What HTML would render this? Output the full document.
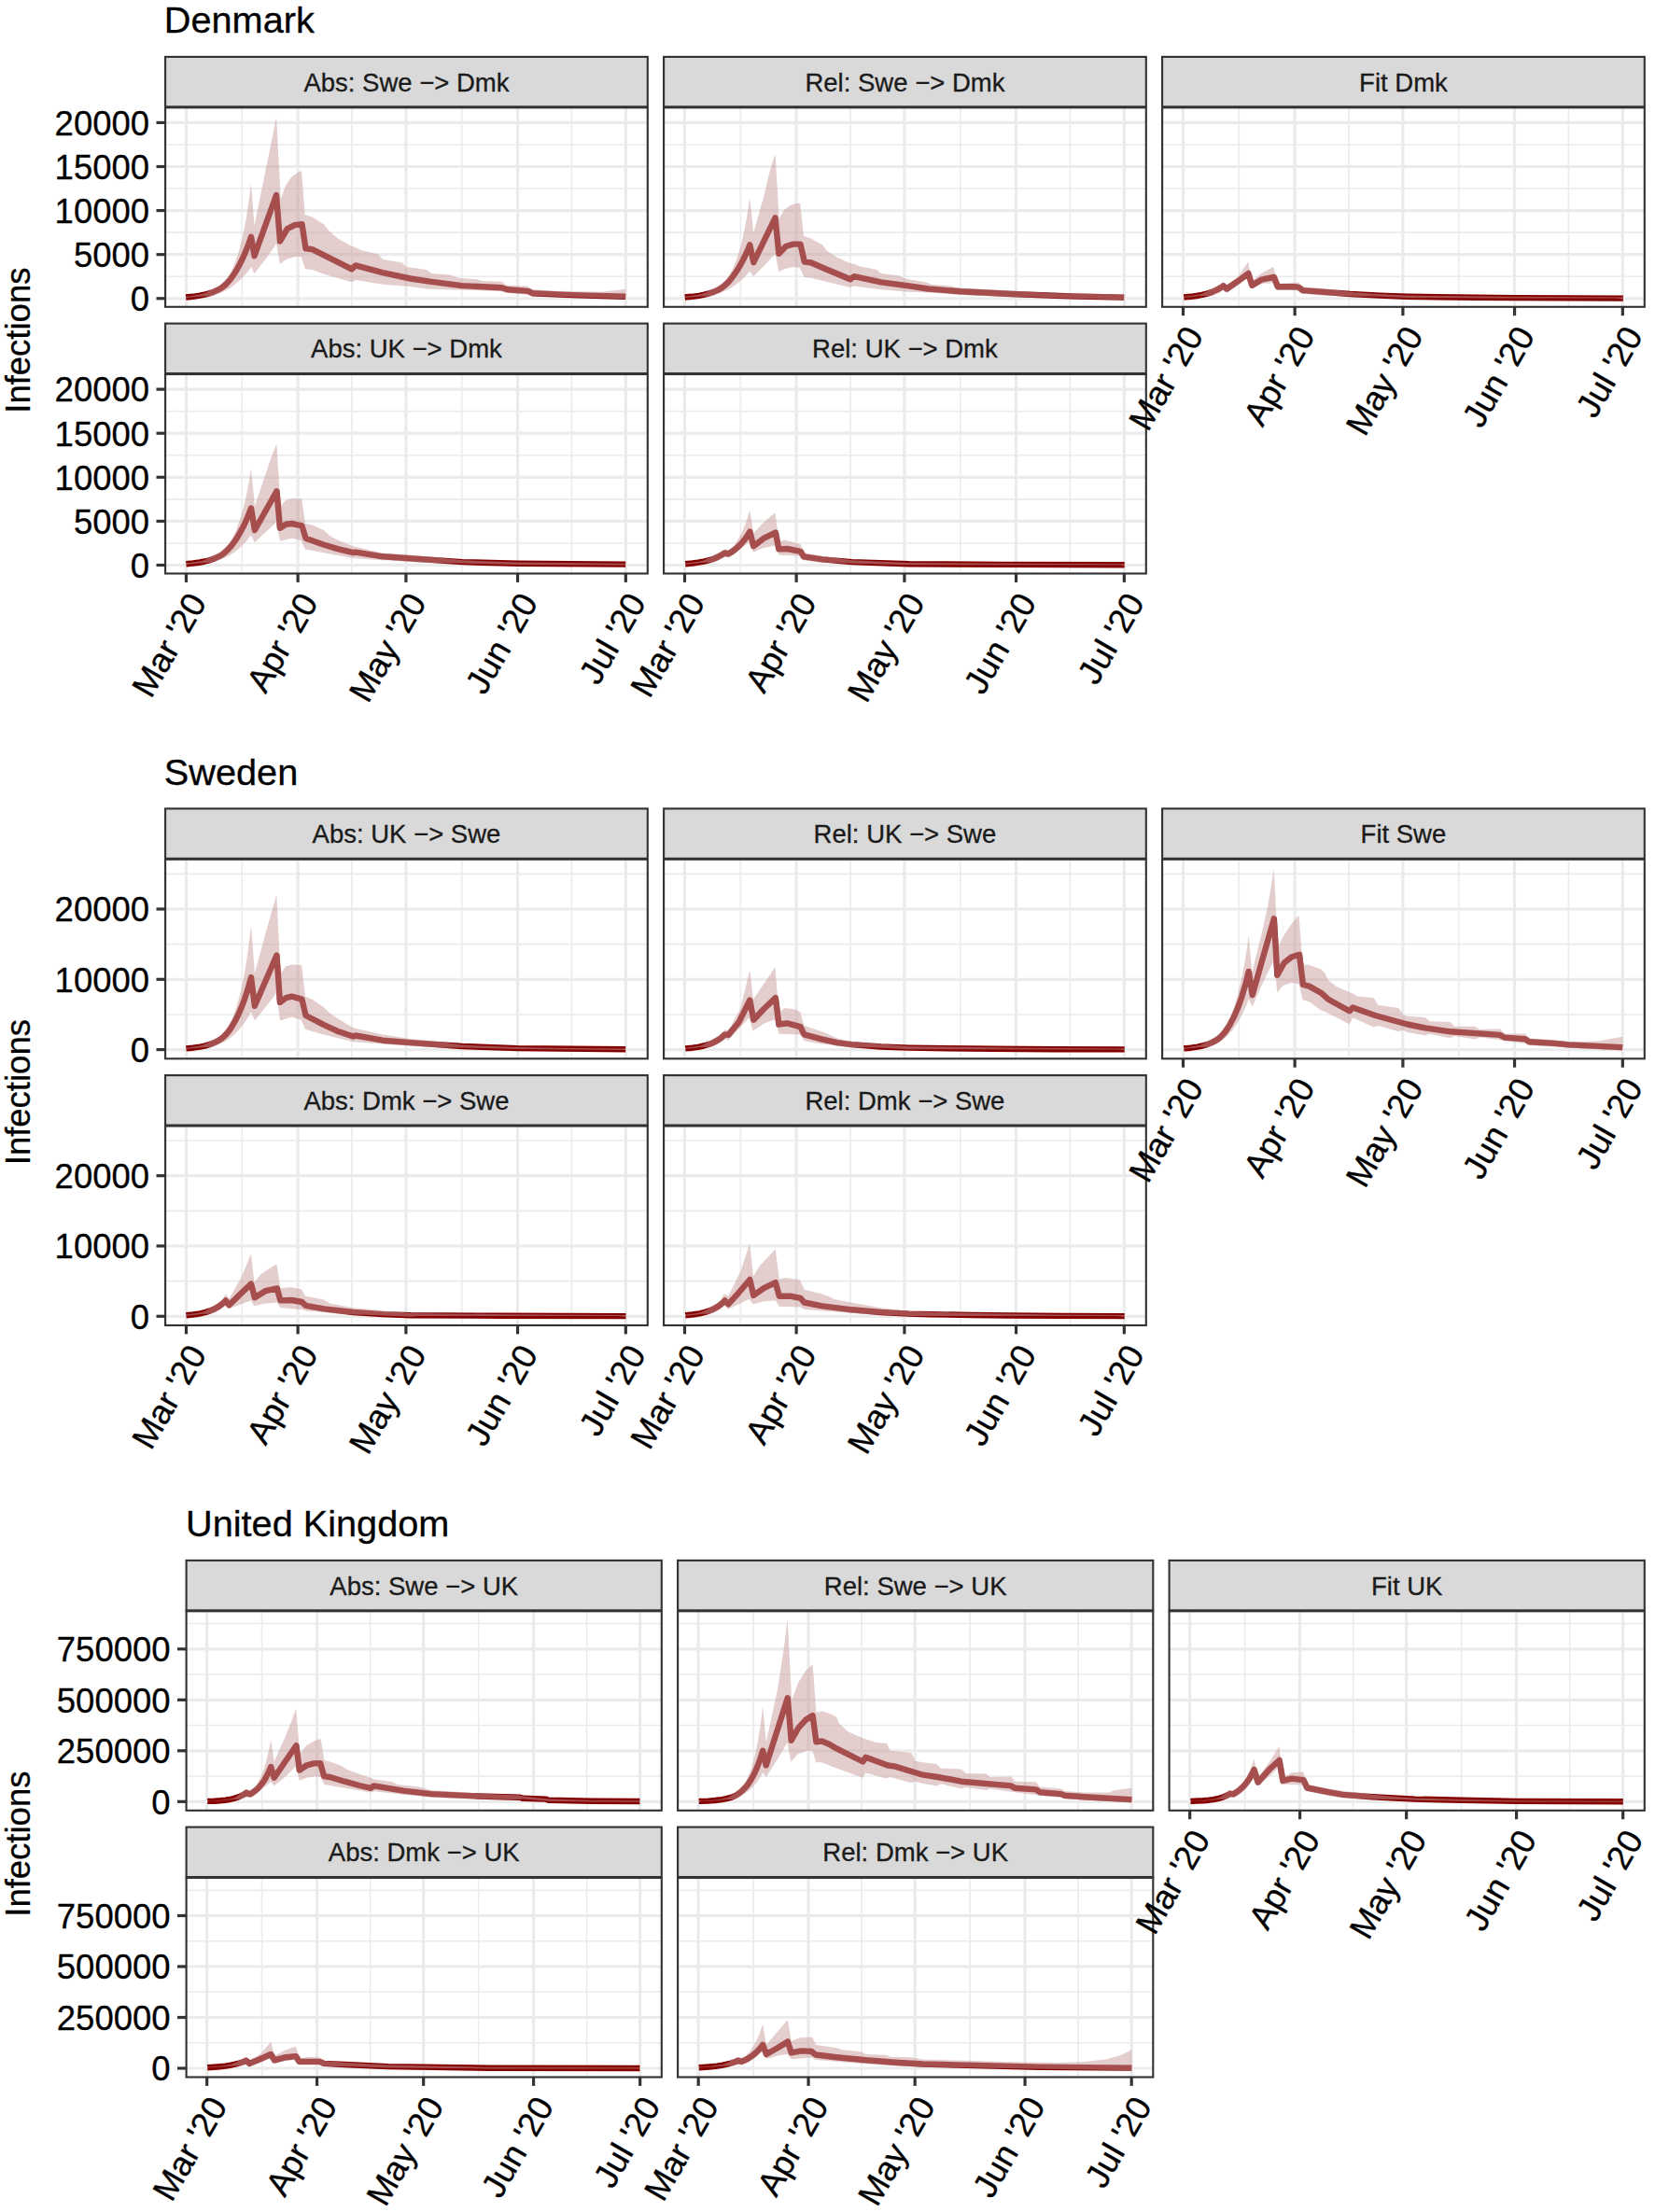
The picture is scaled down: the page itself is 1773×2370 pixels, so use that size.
<!DOCTYPE html>
<html lang="en"><head><meta charset="utf-8"><title>Infections: Denmark, Sweden, United Kingdom</title>
<style>html,body{margin:0;padding:0;background:#fff}svg{display:block}text{stroke:currentColor;stroke-width:.3px;paint-order:stroke}</style></head>
<body>
<svg width="1773" height="2370" viewBox="0 0 1773 2370" font-family='"Liberation Sans", Arial, Helvetica, sans-serif'>
<rect width="1773" height="2370" fill="#fff"/>
<g>
<text x="175.8" y="35" font-size="39.7" fill="#000" color="#000">Denmark</text>
<text transform="translate(31.6 364.65) rotate(-90)" text-anchor="middle" font-size="36.5" fill="#000" color="#000">Infections</text>
<line x1="167.5" x2="177.1" y1="319.8" y2="319.8" stroke="#333" stroke-width="3.2"/>
<text x="160.1" y="333.1" text-anchor="end" font-size="36.5" fill="#000" color="#000">0</text>
<line x1="167.5" x2="177.1" y1="272.7" y2="272.7" stroke="#333" stroke-width="3.2"/>
<text x="160.1" y="286" text-anchor="end" font-size="36.5" fill="#000" color="#000">5000</text>
<line x1="167.5" x2="177.1" y1="225.6" y2="225.6" stroke="#333" stroke-width="3.2"/>
<text x="160.1" y="238.9" text-anchor="end" font-size="36.5" fill="#000" color="#000">10000</text>
<line x1="167.5" x2="177.1" y1="178.5" y2="178.5" stroke="#333" stroke-width="3.2"/>
<text x="160.1" y="191.8" text-anchor="end" font-size="36.5" fill="#000" color="#000">15000</text>
<line x1="167.5" x2="177.1" y1="131.4" y2="131.4" stroke="#333" stroke-width="3.2"/>
<text x="160.1" y="144.7" text-anchor="end" font-size="36.5" fill="#000" color="#000">20000</text>
<clipPath id="c1"><rect x="177.1" y="115.3" width="516.7" height="213.5"/></clipPath>
<g clip-path="url(#c1)">
<line x1="259.31" x2="259.31" y1="115.3" y2="328.8" stroke="#ebebeb" stroke-width="1.6"/>
<line x1="377.02" x2="377.02" y1="115.3" y2="328.8" stroke="#ebebeb" stroke-width="1.6"/>
<line x1="494.73" x2="494.73" y1="115.3" y2="328.8" stroke="#ebebeb" stroke-width="1.6"/>
<line x1="612.44" x2="612.44" y1="115.3" y2="328.8" stroke="#ebebeb" stroke-width="1.6"/>
<line x1="177.1" x2="693.8" y1="296.25" y2="296.25" stroke="#ebebeb" stroke-width="1.6"/>
<line x1="177.1" x2="693.8" y1="249.15" y2="249.15" stroke="#ebebeb" stroke-width="1.6"/>
<line x1="177.1" x2="693.8" y1="202.05" y2="202.05" stroke="#ebebeb" stroke-width="1.6"/>
<line x1="177.1" x2="693.8" y1="154.95" y2="154.95" stroke="#ebebeb" stroke-width="1.6"/>
<line x1="199.48" x2="199.48" y1="115.3" y2="328.8" stroke="#ebebeb" stroke-width="3.2"/>
<line x1="319.13" x2="319.13" y1="115.3" y2="328.8" stroke="#ebebeb" stroke-width="3.2"/>
<line x1="434.91" x2="434.91" y1="115.3" y2="328.8" stroke="#ebebeb" stroke-width="3.2"/>
<line x1="554.55" x2="554.55" y1="115.3" y2="328.8" stroke="#ebebeb" stroke-width="3.2"/>
<line x1="670.33" x2="670.33" y1="115.3" y2="328.8" stroke="#ebebeb" stroke-width="3.2"/>
<line x1="177.1" x2="693.8" y1="319.8" y2="319.8" stroke="#ebebeb" stroke-width="3.2"/>
<line x1="177.1" x2="693.8" y1="272.7" y2="272.7" stroke="#ebebeb" stroke-width="3.2"/>
<line x1="177.1" x2="693.8" y1="225.6" y2="225.6" stroke="#ebebeb" stroke-width="3.2"/>
<line x1="177.1" x2="693.8" y1="178.5" y2="178.5" stroke="#ebebeb" stroke-width="3.2"/>
<line x1="177.1" x2="693.8" y1="131.4" y2="131.4" stroke="#ebebeb" stroke-width="3.2"/>
<polyline points="199.1,318.5 206.6,317.8 214.1,316.7 219.1,315.7 224.1,314.4 229.1,312.7 234.1,310.4 236.6,309 239.1,307.2 241.6,305 244.1,302.4 246.6,299.5 249,296.2 251.5,292.5 254,288.3 256.5,283.8 259,278.8 261.5,273.4 264,267.4 266.5,260.9 269,253.7 272.5,274.2 296,209 300,258.5 307.8,245.1 315.7,241.2 323.5,240.1 327.5,266.3 334.5,267.1 376.9,288.3 380.9,284.4 409.9,292.2 439.8,298.5 460.4,301.7 495,306.1 537.4,308.3 543.7,310.3 565.7,311.9 570.4,314.2 612.8,316.1 670.2,317.8" fill="none" stroke="#840000" stroke-width="6.4" stroke-linejoin="round"/>
<polygon points="199.1,317.5 201.6,317.4 206.6,316.8 216.1,315 219.1,313.9 224.1,311.5 228.6,309 234.6,305.9 237.1,304.2 241.1,300.3 244.1,296.9 246.6,292.8 249.1,287.8 251.1,283.1 254.1,275 256.6,266.8 259.1,257.1 261.6,245.6 264.1,231.9 266.6,215.5 268.6,199.6 269.1,197.6 272.1,237.1 272.6,241.3 284.1,184.6 290.6,153.6 295.6,127.2 296.1,126.2 300.6,211 301.1,212.7 306.1,198.4 312.1,189.9 312.6,189.3 319.1,185.1 323.1,183.1 326.6,229.3 327.1,230.3 334.6,232.6 347.1,240.4 352.1,246.9 362.6,255.9 376.6,263.8 381.1,264.9 386.6,267.9 405.1,272.6 410.1,278.1 430.1,281.2 430.6,281.5 435.1,286 457.1,289.1 462.1,293 482.1,294.6 490.6,297.8 510.6,299.3 517.1,300.9 537.1,301.7 537.6,301.8 542.1,305.6 564.1,306.4 569.1,309.5 570.6,310.3 571.1,310.3 597.1,311.8 644.1,312.7 670.2,309.8 670.2,320.2 619.1,318.4 577.1,317.2 570.6,317.1 569.1,317.2 567.6,316.9 564.6,315.5 543.1,313.9 537.6,312.2 534.1,311.9 457.1,309.5 439.6,307.1 410.1,304.8 381.1,300.1 380.6,300.2 377.1,302.3 376.6,302.3 347.1,293.8 334.6,289.1 327.1,288.3 322.6,275 315.6,275 306.6,278 300.1,282.7 299.6,280.8 296.1,261.2 295.6,261.5 293.6,264.8 284.1,278.3 272.6,292.9 272.1,292.3 269.1,286.1 268.6,286.5 266.6,289.4 263.6,293.2 259.1,298.2 256.6,300.6 251.1,305.3 246.6,308.5 244.1,310 239.1,312.5 235.6,313.8 230.1,316.2 227.6,317 222.6,317.5 216.1,317.5 201.6,318.7 199.1,319.3" fill="#c89b9b" fill-opacity="0.5"/>
</g>
<rect x="177.1" y="115.3" width="516.7" height="213.5" fill="none" stroke="#333" stroke-width="2.13"/>
<rect x="177.1" y="60.9" width="516.7" height="53.45" fill="#d9d9d9" stroke="#333" stroke-width="2.13"/>
<text x="435.45" y="97.62" text-anchor="middle" font-size="27.5" fill="#1a1a1a" color="#1a1a1a">Abs: Swe −> Dmk</text>
<clipPath id="c2"><rect x="711.1" y="115.3" width="516.7" height="213.5"/></clipPath>
<g clip-path="url(#c2)">
<line x1="793.31" x2="793.31" y1="115.3" y2="328.8" stroke="#ebebeb" stroke-width="1.6"/>
<line x1="911.02" x2="911.02" y1="115.3" y2="328.8" stroke="#ebebeb" stroke-width="1.6"/>
<line x1="1028.73" x2="1028.73" y1="115.3" y2="328.8" stroke="#ebebeb" stroke-width="1.6"/>
<line x1="1146.44" x2="1146.44" y1="115.3" y2="328.8" stroke="#ebebeb" stroke-width="1.6"/>
<line x1="711.1" x2="1227.8" y1="296.25" y2="296.25" stroke="#ebebeb" stroke-width="1.6"/>
<line x1="711.1" x2="1227.8" y1="249.15" y2="249.15" stroke="#ebebeb" stroke-width="1.6"/>
<line x1="711.1" x2="1227.8" y1="202.05" y2="202.05" stroke="#ebebeb" stroke-width="1.6"/>
<line x1="711.1" x2="1227.8" y1="154.95" y2="154.95" stroke="#ebebeb" stroke-width="1.6"/>
<line x1="733.48" x2="733.48" y1="115.3" y2="328.8" stroke="#ebebeb" stroke-width="3.2"/>
<line x1="853.13" x2="853.13" y1="115.3" y2="328.8" stroke="#ebebeb" stroke-width="3.2"/>
<line x1="968.91" x2="968.91" y1="115.3" y2="328.8" stroke="#ebebeb" stroke-width="3.2"/>
<line x1="1088.55" x2="1088.55" y1="115.3" y2="328.8" stroke="#ebebeb" stroke-width="3.2"/>
<line x1="1204.33" x2="1204.33" y1="115.3" y2="328.8" stroke="#ebebeb" stroke-width="3.2"/>
<line x1="711.1" x2="1227.8" y1="319.8" y2="319.8" stroke="#ebebeb" stroke-width="3.2"/>
<line x1="711.1" x2="1227.8" y1="272.7" y2="272.7" stroke="#ebebeb" stroke-width="3.2"/>
<line x1="711.1" x2="1227.8" y1="225.6" y2="225.6" stroke="#ebebeb" stroke-width="3.2"/>
<line x1="711.1" x2="1227.8" y1="178.5" y2="178.5" stroke="#ebebeb" stroke-width="3.2"/>
<line x1="711.1" x2="1227.8" y1="131.4" y2="131.4" stroke="#ebebeb" stroke-width="3.2"/>
<polyline points="733.7,318.5 741.2,317.8 748.7,316.8 753.6,315.9 758.6,314.7 763.6,313.1 768.5,311.1 771,309.8 773.5,308.2 776,306.2 778.5,303.9 781,301.4 783.5,298.4 785.9,295.2 788.4,291.6 790.9,287.7 793.4,283.5 795.9,278.8 798.4,273.8 800.8,268.4 803.3,262.4 807.3,281.2 830.5,233.3 834.4,271.8 841.8,264 849.7,261.6 857.5,261.6 861.8,280.5 868.5,281.2 881.1,286.7 910.9,299.3 914.9,296.2 943.9,302.4 973.8,306.4 994.4,309.5 1029,312.3 1084,315 1146.8,317.4 1204.2,318.6" fill="none" stroke="#840000" stroke-width="6.4" stroke-linejoin="round"/>
<polygon points="733.7,317.5 736.2,317.4 741.2,316.8 750.7,315.2 753.7,314.2 757.7,312.4 764.2,309 769.2,306.6 771.7,305 776.2,301.1 779.2,297.9 780.7,295.6 783.7,290.3 785.7,286.1 788.2,280.1 790.7,273 793.2,264.7 795.7,254.8 798.2,243.1 800.7,229 803.2,212 803.7,215.3 807.2,249.6 818.2,210.6 824.7,183.2 830.2,165.8 830.7,168.7 834.7,233.9 835.2,233.3 840.2,224.7 846.2,220.2 846.7,219.9 853.2,218.1 856.7,217.7 857.2,217.8 860.7,250.6 861.2,253 868.7,255.4 880.7,262.2 881.2,262.6 885.7,268.6 886.2,268.9 896.7,275.7 910.7,281.9 914.7,282.8 920.7,285.2 939.2,289.1 943.7,292.9 944.2,293.1 964.2,295.4 969.2,298.5 992.7,302.4 997.7,304.8 1019.2,306.4 1024.7,308.3 1131.2,314.2 1204.2,315.5 1204.2,321.3 1146.7,319.7 1118.2,318.7 1083.7,317.9 1038.2,316.5 1028.7,316 997.2,313.4 973.7,312.7 944.2,310.3 915.2,306.4 914.7,306.4 910.7,307.9 868.7,297.8 861.7,297 861.2,296.5 856.7,286.7 849.7,286 849.2,286.1 840.2,288.3 834.7,291.3 834.2,290.4 830.7,272.9 830.2,272.1 818.2,285.2 807.2,296.1 803.7,291.2 803.2,290.8 798.2,296.4 795.7,298.8 791.2,302.7 785.7,306.7 781.2,309.5 778.2,311 766.7,315.8 764.7,316.6 763.2,317 759.7,317.4 751.7,317.5 736.2,318.7 733.7,319.3" fill="#c89b9b" fill-opacity="0.5"/>
</g>
<rect x="711.1" y="115.3" width="516.7" height="213.5" fill="none" stroke="#333" stroke-width="2.13"/>
<rect x="711.1" y="60.9" width="516.7" height="53.45" fill="#d9d9d9" stroke="#333" stroke-width="2.13"/>
<text x="969.45" y="97.62" text-anchor="middle" font-size="27.5" fill="#1a1a1a" color="#1a1a1a">Rel: Swe −> Dmk</text>
<clipPath id="c3"><rect x="1245.1" y="115.3" width="516.7" height="213.5"/></clipPath>
<g clip-path="url(#c3)">
<line x1="1327.31" x2="1327.31" y1="115.3" y2="328.8" stroke="#ebebeb" stroke-width="1.6"/>
<line x1="1445.02" x2="1445.02" y1="115.3" y2="328.8" stroke="#ebebeb" stroke-width="1.6"/>
<line x1="1562.73" x2="1562.73" y1="115.3" y2="328.8" stroke="#ebebeb" stroke-width="1.6"/>
<line x1="1680.44" x2="1680.44" y1="115.3" y2="328.8" stroke="#ebebeb" stroke-width="1.6"/>
<line x1="1245.1" x2="1761.8" y1="296.25" y2="296.25" stroke="#ebebeb" stroke-width="1.6"/>
<line x1="1245.1" x2="1761.8" y1="249.15" y2="249.15" stroke="#ebebeb" stroke-width="1.6"/>
<line x1="1245.1" x2="1761.8" y1="202.05" y2="202.05" stroke="#ebebeb" stroke-width="1.6"/>
<line x1="1245.1" x2="1761.8" y1="154.95" y2="154.95" stroke="#ebebeb" stroke-width="1.6"/>
<line x1="1267.48" x2="1267.48" y1="115.3" y2="328.8" stroke="#ebebeb" stroke-width="3.2"/>
<line x1="1387.13" x2="1387.13" y1="115.3" y2="328.8" stroke="#ebebeb" stroke-width="3.2"/>
<line x1="1502.91" x2="1502.91" y1="115.3" y2="328.8" stroke="#ebebeb" stroke-width="3.2"/>
<line x1="1622.55" x2="1622.55" y1="115.3" y2="328.8" stroke="#ebebeb" stroke-width="3.2"/>
<line x1="1738.33" x2="1738.33" y1="115.3" y2="328.8" stroke="#ebebeb" stroke-width="3.2"/>
<line x1="1245.1" x2="1761.8" y1="319.8" y2="319.8" stroke="#ebebeb" stroke-width="3.2"/>
<line x1="1245.1" x2="1761.8" y1="272.7" y2="272.7" stroke="#ebebeb" stroke-width="3.2"/>
<line x1="1245.1" x2="1761.8" y1="225.6" y2="225.6" stroke="#ebebeb" stroke-width="3.2"/>
<line x1="1245.1" x2="1761.8" y1="178.5" y2="178.5" stroke="#ebebeb" stroke-width="3.2"/>
<line x1="1245.1" x2="1761.8" y1="131.4" y2="131.4" stroke="#ebebeb" stroke-width="3.2"/>
<polyline points="1268.2,318.5 1275.8,317.8 1281.8,317 1287.9,315.9 1294,314.4 1298.5,312.9 1303.1,310.9 1307.6,308.4 1310.6,306.4 1314.2,309.5 1325.6,301.7 1337.3,293 1341.3,305.6 1352.3,299.3 1364.8,296.9 1368.8,307.2 1386.8,307.2 1391.5,307.9 1395.5,311.1 1446.5,315 1477.9,316.6 1507.8,317.7 1540.8,318.3 1582.1,318.8 1623.4,319.1 1738.9,319.6" fill="none" stroke="#840000" stroke-width="6.4" stroke-linejoin="round"/>
<polygon points="1268.2,317.7 1278.7,316.6 1286.2,315.2 1292.2,312.6 1298.7,308.8 1303.2,306.7 1309.2,303.1 1310.7,301.8 1311.2,302.7 1312.7,303.4 1314.2,304.7 1314.7,304.8 1324.2,298.2 1327.2,295.2 1337.2,280.6 1338.7,289.7 1339.7,290.6 1340.2,291.3 1340.7,292.5 1342.7,298.9 1343.2,299.5 1352.2,292.3 1364.2,286.1 1364.7,287 1365.7,292.2 1366.2,293.6 1367.2,294.4 1368.2,296.2 1370.7,302.7 1371.2,303.5 1376.7,303.4 1391.2,302.5 1391.7,302.7 1393.2,304.7 1396.7,307.5 1417.2,309.1 1446.7,312.7 1472.2,314.8 1507.7,316.6 1615.2,317.8 1738.9,318.6 1738.9,320.4 1730.2,319.6 1606.7,319.4 1507.7,318.9 1472.2,317.6 1446.2,317.4 1417.2,316.5 1395.2,314.8 1393.2,313.9 1390.2,311.5 1386.7,310.9 1369.2,310.9 1367.7,310.6 1366.7,310.1 1365.7,308.8 1363.7,303.6 1363.2,303.3 1352.2,304 1350.2,304.7 1343.2,308.7 1341.7,309.1 1340.7,309.1 1339.2,308.4 1338.2,307.2 1335.7,299.2 1335.2,299.1 1327.2,304.9 1316.7,312.2 1315.2,313 1314.2,313.2 1313.2,313 1312.2,312.5 1310.7,311.2 1310.2,311 1304.7,314.2 1298.7,316.7 1293.2,317 1285.7,317.1 1278.7,318 1269.7,318.7 1268.2,319.3" fill="#c89b9b" fill-opacity="0.5"/>
</g>
<rect x="1245.1" y="115.3" width="516.7" height="213.5" fill="none" stroke="#333" stroke-width="2.13"/>
<rect x="1245.1" y="60.9" width="516.7" height="53.45" fill="#d9d9d9" stroke="#333" stroke-width="2.13"/>
<text x="1503.45" y="97.62" text-anchor="middle" font-size="27.5" fill="#1a1a1a" color="#1a1a1a">Fit Dmk</text>
<line x1="1267.48" x2="1267.48" y1="328.8" y2="338.2" stroke="#333" stroke-width="3.2"/>
<line x1="1387.13" x2="1387.13" y1="328.8" y2="338.2" stroke="#333" stroke-width="3.2"/>
<line x1="1502.91" x2="1502.91" y1="328.8" y2="338.2" stroke="#333" stroke-width="3.2"/>
<line x1="1622.55" x2="1622.55" y1="328.8" y2="338.2" stroke="#333" stroke-width="3.2"/>
<line x1="1738.33" x2="1738.33" y1="328.8" y2="338.2" stroke="#333" stroke-width="3.2"/>
<line x1="167.5" x2="177.1" y1="605.5" y2="605.5" stroke="#333" stroke-width="3.2"/>
<text x="160.1" y="618.8" text-anchor="end" font-size="36.5" fill="#000" color="#000">0</text>
<line x1="167.5" x2="177.1" y1="558.4" y2="558.4" stroke="#333" stroke-width="3.2"/>
<text x="160.1" y="571.7" text-anchor="end" font-size="36.5" fill="#000" color="#000">5000</text>
<line x1="167.5" x2="177.1" y1="511.3" y2="511.3" stroke="#333" stroke-width="3.2"/>
<text x="160.1" y="524.6" text-anchor="end" font-size="36.5" fill="#000" color="#000">10000</text>
<line x1="167.5" x2="177.1" y1="464.2" y2="464.2" stroke="#333" stroke-width="3.2"/>
<text x="160.1" y="477.5" text-anchor="end" font-size="36.5" fill="#000" color="#000">15000</text>
<line x1="167.5" x2="177.1" y1="417.1" y2="417.1" stroke="#333" stroke-width="3.2"/>
<text x="160.1" y="430.4" text-anchor="end" font-size="36.5" fill="#000" color="#000">20000</text>
<clipPath id="c4"><rect x="177.1" y="401" width="516.7" height="213.5"/></clipPath>
<g clip-path="url(#c4)">
<line x1="259.31" x2="259.31" y1="401" y2="614.5" stroke="#ebebeb" stroke-width="1.6"/>
<line x1="377.02" x2="377.02" y1="401" y2="614.5" stroke="#ebebeb" stroke-width="1.6"/>
<line x1="494.73" x2="494.73" y1="401" y2="614.5" stroke="#ebebeb" stroke-width="1.6"/>
<line x1="612.44" x2="612.44" y1="401" y2="614.5" stroke="#ebebeb" stroke-width="1.6"/>
<line x1="177.1" x2="693.8" y1="581.95" y2="581.95" stroke="#ebebeb" stroke-width="1.6"/>
<line x1="177.1" x2="693.8" y1="534.85" y2="534.85" stroke="#ebebeb" stroke-width="1.6"/>
<line x1="177.1" x2="693.8" y1="487.75" y2="487.75" stroke="#ebebeb" stroke-width="1.6"/>
<line x1="177.1" x2="693.8" y1="440.65" y2="440.65" stroke="#ebebeb" stroke-width="1.6"/>
<line x1="199.48" x2="199.48" y1="401" y2="614.5" stroke="#ebebeb" stroke-width="3.2"/>
<line x1="319.13" x2="319.13" y1="401" y2="614.5" stroke="#ebebeb" stroke-width="3.2"/>
<line x1="434.91" x2="434.91" y1="401" y2="614.5" stroke="#ebebeb" stroke-width="3.2"/>
<line x1="554.55" x2="554.55" y1="401" y2="614.5" stroke="#ebebeb" stroke-width="3.2"/>
<line x1="670.33" x2="670.33" y1="401" y2="614.5" stroke="#ebebeb" stroke-width="3.2"/>
<line x1="177.1" x2="693.8" y1="605.5" y2="605.5" stroke="#ebebeb" stroke-width="3.2"/>
<line x1="177.1" x2="693.8" y1="558.4" y2="558.4" stroke="#ebebeb" stroke-width="3.2"/>
<line x1="177.1" x2="693.8" y1="511.3" y2="511.3" stroke="#ebebeb" stroke-width="3.2"/>
<line x1="177.1" x2="693.8" y1="464.2" y2="464.2" stroke="#ebebeb" stroke-width="3.2"/>
<line x1="177.1" x2="693.8" y1="417.1" y2="417.1" stroke="#ebebeb" stroke-width="3.2"/>
<polyline points="199.4,604.2 206.9,603.5 214.3,602.5 219.3,601.5 224.3,600.3 229.3,598.6 234.2,596.4 236.7,595.1 239.2,593.4 241.7,591.3 244.2,588.9 246.7,586.2 249.1,583.1 251.6,579.7 254.1,575.9 256.6,571.7 259.1,567.1 261.6,562.2 264.1,556.8 266.5,550.9 269,544.5 272.9,568 296.4,526.4 300,565.7 306.3,561.7 312.5,561 323.5,563.3 327.5,576.7 347.1,583.7 362.8,588.4 378.5,592.1 380.9,591.6 409.9,596.3 495,602.1 554.7,603.7 670.2,604.6" fill="none" stroke="#840000" stroke-width="6.4" stroke-linejoin="round"/>
<polygon points="199.4,603.1 201.9,603.1 204.4,602.8 214.4,601.2 216.9,600.7 221.9,598.6 225.9,596.6 229.4,594.6 234.9,591.9 236.9,590.6 241.4,586.6 245.9,581.4 248.9,576.4 251.9,570.2 253.9,565.5 256.4,558.6 258.9,550.7 261.4,541.5 263.9,530.7 266.4,517.9 268.9,502.6 269.4,506.2 272.9,541.9 283.9,510.1 290.4,490.6 295.9,476.4 296.4,476.5 299.4,525.4 300.9,541.6 306.4,535.8 312.4,534.3 322.9,534.6 323.4,536 326.9,560.5 327.4,561 334.4,562.5 346.9,567.9 353.4,574.3 362.9,579.1 378.4,585.3 409.9,592.4 418.4,593.2 441.9,594.8 455.9,596 473.9,597.8 494.9,600.2 554.9,602.6 670.2,603.7 670.2,605.6 554.9,604.9 493.4,603.6 468.9,603.3 441.9,602.2 418.9,600.6 409.9,600.2 378.4,597.9 346.9,592.3 327.4,588.5 326.9,588.3 322.9,579.4 322.4,578.9 312.4,576.7 300.4,579.7 299.9,579.6 297.9,568.3 296.9,567 296.4,561.5 295.9,559.8 284.4,570.2 272.9,581.3 269.4,574.3 268.9,573.6 263.9,579.9 259.4,584.6 256.4,587.4 251.9,591 248.9,593.1 244.4,595.9 241.4,597.4 230.4,602.1 228.4,602.6 223.4,603.1 216.9,603.2 201.9,604.4 199.4,605.3" fill="#c89b9b" fill-opacity="0.5"/>
</g>
<rect x="177.1" y="401" width="516.7" height="213.5" fill="none" stroke="#333" stroke-width="2.13"/>
<rect x="177.1" y="346.6" width="516.7" height="53.45" fill="#d9d9d9" stroke="#333" stroke-width="2.13"/>
<text x="435.45" y="383.32" text-anchor="middle" font-size="27.5" fill="#1a1a1a" color="#1a1a1a">Abs: UK −> Dmk</text>
<line x1="199.48" x2="199.48" y1="614.5" y2="623.9" stroke="#333" stroke-width="3.2"/>
<line x1="319.13" x2="319.13" y1="614.5" y2="623.9" stroke="#333" stroke-width="3.2"/>
<line x1="434.91" x2="434.91" y1="614.5" y2="623.9" stroke="#333" stroke-width="3.2"/>
<line x1="554.55" x2="554.55" y1="614.5" y2="623.9" stroke="#333" stroke-width="3.2"/>
<line x1="670.33" x2="670.33" y1="614.5" y2="623.9" stroke="#333" stroke-width="3.2"/>
<clipPath id="c5"><rect x="711.1" y="401" width="516.7" height="213.5"/></clipPath>
<g clip-path="url(#c5)">
<line x1="793.31" x2="793.31" y1="401" y2="614.5" stroke="#ebebeb" stroke-width="1.6"/>
<line x1="911.02" x2="911.02" y1="401" y2="614.5" stroke="#ebebeb" stroke-width="1.6"/>
<line x1="1028.73" x2="1028.73" y1="401" y2="614.5" stroke="#ebebeb" stroke-width="1.6"/>
<line x1="1146.44" x2="1146.44" y1="401" y2="614.5" stroke="#ebebeb" stroke-width="1.6"/>
<line x1="711.1" x2="1227.8" y1="581.95" y2="581.95" stroke="#ebebeb" stroke-width="1.6"/>
<line x1="711.1" x2="1227.8" y1="534.85" y2="534.85" stroke="#ebebeb" stroke-width="1.6"/>
<line x1="711.1" x2="1227.8" y1="487.75" y2="487.75" stroke="#ebebeb" stroke-width="1.6"/>
<line x1="711.1" x2="1227.8" y1="440.65" y2="440.65" stroke="#ebebeb" stroke-width="1.6"/>
<line x1="733.48" x2="733.48" y1="401" y2="614.5" stroke="#ebebeb" stroke-width="3.2"/>
<line x1="853.13" x2="853.13" y1="401" y2="614.5" stroke="#ebebeb" stroke-width="3.2"/>
<line x1="968.91" x2="968.91" y1="401" y2="614.5" stroke="#ebebeb" stroke-width="3.2"/>
<line x1="1088.55" x2="1088.55" y1="401" y2="614.5" stroke="#ebebeb" stroke-width="3.2"/>
<line x1="1204.33" x2="1204.33" y1="401" y2="614.5" stroke="#ebebeb" stroke-width="3.2"/>
<line x1="711.1" x2="1227.8" y1="605.5" y2="605.5" stroke="#ebebeb" stroke-width="3.2"/>
<line x1="711.1" x2="1227.8" y1="558.4" y2="558.4" stroke="#ebebeb" stroke-width="3.2"/>
<line x1="711.1" x2="1227.8" y1="511.3" y2="511.3" stroke="#ebebeb" stroke-width="3.2"/>
<line x1="711.1" x2="1227.8" y1="464.2" y2="464.2" stroke="#ebebeb" stroke-width="3.2"/>
<line x1="711.1" x2="1227.8" y1="417.1" y2="417.1" stroke="#ebebeb" stroke-width="3.2"/>
<polyline points="734.2,604.2 741.8,603.5 747.8,602.7 753.9,601.6 760,600.1 764.5,598.7 769.1,596.8 773.6,594.3 776.6,592.4 780.2,593.6 783.5,591.6 786.8,589.2 790.1,586.4 792.6,584 795.9,580.3 798.4,577.2 800.9,573.6 803.3,569.6 807.3,585.3 818.3,576.7 830.8,570.7 834.4,588.4 843.4,588 857.5,590.8 861,596.3 881.1,599.4 912.5,602.1 973.8,604.2 1072.8,604.9 1204.7,605.3" fill="none" stroke="#840000" stroke-width="6.4" stroke-linejoin="round"/>
<polygon points="734.2,603.4 744.7,602.3 752.2,600.9 755.7,599.5 759.7,597.6 764.7,594.7 770.7,591.8 775.2,589.1 776.7,588.5 779.7,589.6 780.2,589.4 784.7,586.3 787.7,582.5 790.2,578.8 792.7,574.5 794.7,570.5 796.7,566 799.2,559.7 803.2,547.2 803.7,549.1 807.2,570.8 807.7,570.7 818.2,559.4 830.2,549.4 830.7,550.8 832.7,566.8 833.2,568.2 833.7,569 834.2,570.8 835.7,578.2 836.2,579.9 840.2,578.3 857.2,582.9 857.7,583.4 859.7,588.1 860.2,588.5 862.7,592.5 867.2,593.5 881.7,596 895.7,597.7 912.7,600.2 973.7,603.1 1204.7,604.3 1204.7,606.1 1196.2,605.3 973.7,605.3 912.7,603.7 878.2,602.5 874.7,602.2 860.2,599.9 859.2,599.4 858.2,598.4 856.2,595.5 834.7,594.7 834.2,594.1 833.2,591.8 832.2,591 831.2,589.1 830.2,584.6 818.2,586.9 807.2,591.5 805.7,588.4 804.7,587.7 804.2,586.9 803.2,582.9 802.7,581.7 802.2,581.6 795.2,586.5 791.2,590.3 787.7,593.1 783.7,595.8 781.2,597.2 779.7,597.3 777.2,596.5 770.7,600 764.7,602.4 759.2,602.8 751.7,602.9 744.7,603.7 735.7,604.4 734.2,605.3" fill="#c89b9b" fill-opacity="0.5"/>
</g>
<rect x="711.1" y="401" width="516.7" height="213.5" fill="none" stroke="#333" stroke-width="2.13"/>
<rect x="711.1" y="346.6" width="516.7" height="53.45" fill="#d9d9d9" stroke="#333" stroke-width="2.13"/>
<text x="969.45" y="383.32" text-anchor="middle" font-size="27.5" fill="#1a1a1a" color="#1a1a1a">Rel: UK −> Dmk</text>
<line x1="733.48" x2="733.48" y1="614.5" y2="623.9" stroke="#333" stroke-width="3.2"/>
<line x1="853.13" x2="853.13" y1="614.5" y2="623.9" stroke="#333" stroke-width="3.2"/>
<line x1="968.91" x2="968.91" y1="614.5" y2="623.9" stroke="#333" stroke-width="3.2"/>
<line x1="1088.55" x2="1088.55" y1="614.5" y2="623.9" stroke="#333" stroke-width="3.2"/>
<line x1="1204.33" x2="1204.33" y1="614.5" y2="623.9" stroke="#333" stroke-width="3.2"/>
<text transform="translate(1267.48 346.3) rotate(-60)" text-anchor="end" font-size="36.5" fill="#000" color="#000" dy="26.13">Mar '20</text>
<text transform="translate(1387.13 346.3) rotate(-60)" text-anchor="end" font-size="36.5" fill="#000" color="#000" dy="26.13">Apr '20</text>
<text transform="translate(1502.91 346.3) rotate(-60)" text-anchor="end" font-size="36.5" fill="#000" color="#000" dy="26.13">May '20</text>
<text transform="translate(1622.55 346.3) rotate(-60)" text-anchor="end" font-size="36.5" fill="#000" color="#000" dy="26.13">Jun '20</text>
<text transform="translate(1738.33 346.3) rotate(-60)" text-anchor="end" font-size="36.5" fill="#000" color="#000" dy="26.13">Jul '20</text>
<text transform="translate(199.48 632) rotate(-60)" text-anchor="end" font-size="36.5" fill="#000" color="#000" dy="26.13">Mar '20</text>
<text transform="translate(319.13 632) rotate(-60)" text-anchor="end" font-size="36.5" fill="#000" color="#000" dy="26.13">Apr '20</text>
<text transform="translate(434.91 632) rotate(-60)" text-anchor="end" font-size="36.5" fill="#000" color="#000" dy="26.13">May '20</text>
<text transform="translate(554.55 632) rotate(-60)" text-anchor="end" font-size="36.5" fill="#000" color="#000" dy="26.13">Jun '20</text>
<text transform="translate(670.33 632) rotate(-60)" text-anchor="end" font-size="36.5" fill="#000" color="#000" dy="26.13">Jul '20</text>
<text transform="translate(733.48 632) rotate(-60)" text-anchor="end" font-size="36.5" fill="#000" color="#000" dy="26.13">Mar '20</text>
<text transform="translate(853.13 632) rotate(-60)" text-anchor="end" font-size="36.5" fill="#000" color="#000" dy="26.13">Apr '20</text>
<text transform="translate(968.91 632) rotate(-60)" text-anchor="end" font-size="36.5" fill="#000" color="#000" dy="26.13">May '20</text>
<text transform="translate(1088.55 632) rotate(-60)" text-anchor="end" font-size="36.5" fill="#000" color="#000" dy="26.13">Jun '20</text>
<text transform="translate(1204.33 632) rotate(-60)" text-anchor="end" font-size="36.5" fill="#000" color="#000" dy="26.13">Jul '20</text>
</g>
<g>
<text x="175.8" y="840.5" font-size="39.7" fill="#000" color="#000">Sweden</text>
<text transform="translate(31.6 1170.15) rotate(-90)" text-anchor="middle" font-size="36.5" fill="#000" color="#000">Infections</text>
<line x1="167.5" x2="177.1" y1="1124.6" y2="1124.6" stroke="#333" stroke-width="3.2"/>
<text x="160.1" y="1137.9" text-anchor="end" font-size="36.5" fill="#000" color="#000">0</text>
<line x1="167.5" x2="177.1" y1="1049.3" y2="1049.3" stroke="#333" stroke-width="3.2"/>
<text x="160.1" y="1062.6" text-anchor="end" font-size="36.5" fill="#000" color="#000">10000</text>
<line x1="167.5" x2="177.1" y1="974" y2="974" stroke="#333" stroke-width="3.2"/>
<text x="160.1" y="987.3" text-anchor="end" font-size="36.5" fill="#000" color="#000">20000</text>
<clipPath id="c6"><rect x="177.1" y="920.8" width="516.7" height="213.5"/></clipPath>
<g clip-path="url(#c6)">
<line x1="259.31" x2="259.31" y1="920.8" y2="1134.3" stroke="#ebebeb" stroke-width="1.6"/>
<line x1="377.02" x2="377.02" y1="920.8" y2="1134.3" stroke="#ebebeb" stroke-width="1.6"/>
<line x1="494.73" x2="494.73" y1="920.8" y2="1134.3" stroke="#ebebeb" stroke-width="1.6"/>
<line x1="612.44" x2="612.44" y1="920.8" y2="1134.3" stroke="#ebebeb" stroke-width="1.6"/>
<line x1="177.1" x2="693.8" y1="1086.95" y2="1086.95" stroke="#ebebeb" stroke-width="1.6"/>
<line x1="177.1" x2="693.8" y1="1011.65" y2="1011.65" stroke="#ebebeb" stroke-width="1.6"/>
<line x1="177.1" x2="693.8" y1="936.35" y2="936.35" stroke="#ebebeb" stroke-width="1.6"/>
<line x1="199.48" x2="199.48" y1="920.8" y2="1134.3" stroke="#ebebeb" stroke-width="3.2"/>
<line x1="319.13" x2="319.13" y1="920.8" y2="1134.3" stroke="#ebebeb" stroke-width="3.2"/>
<line x1="434.91" x2="434.91" y1="920.8" y2="1134.3" stroke="#ebebeb" stroke-width="3.2"/>
<line x1="554.55" x2="554.55" y1="920.8" y2="1134.3" stroke="#ebebeb" stroke-width="3.2"/>
<line x1="670.33" x2="670.33" y1="920.8" y2="1134.3" stroke="#ebebeb" stroke-width="3.2"/>
<line x1="177.1" x2="693.8" y1="1124.6" y2="1124.6" stroke="#ebebeb" stroke-width="3.2"/>
<line x1="177.1" x2="693.8" y1="1049.3" y2="1049.3" stroke="#ebebeb" stroke-width="3.2"/>
<line x1="177.1" x2="693.8" y1="974" y2="974" stroke="#ebebeb" stroke-width="3.2"/>
<polyline points="199.4,1123.4 206.9,1122.7 214.3,1121.6 219.3,1120.6 224.3,1119.2 229.3,1117.3 231.7,1116.2 234.2,1114.8 236.7,1113.3 239.2,1111.3 241.7,1108.8 244.2,1105.9 246.7,1102.6 249.1,1098.7 251.6,1094.4 254.1,1089.6 256.6,1084.2 259.1,1078.2 261.6,1071.6 264.1,1064.3 266.5,1056.2 269,1047.2 272.9,1077.8 296.4,1023.6 300,1073.9 306.3,1069.2 312.5,1067.6 323.5,1070.7 327.5,1088 347.1,1098.2 362.8,1105.3 378.5,1110.5 380.9,1109.5 409.9,1114.7 439.8,1117.1 495,1121 554.7,1123.1 670.2,1124.2" fill="none" stroke="#840000" stroke-width="6.4" stroke-linejoin="round"/>
<polygon points="199.4,1122.3 201.9,1122.4 204.4,1122.1 213.9,1120.5 216.9,1119.8 221.9,1117.5 228.4,1113.7 232.9,1111.4 234.9,1110.1 236.9,1108.5 238.9,1106.5 241.4,1103.6 245.4,1098 246.9,1095.3 248.9,1090.9 251.9,1083.1 253.9,1077 256.4,1068.2 258.9,1057.8 261.4,1045.5 263.9,1030.9 266.4,1013.4 268.9,992.2 269.4,996.8 272.9,1043 284.4,1000.3 295.9,959.9 296.4,959.9 299.4,1022.2 300.9,1042.6 306.4,1035.3 312.4,1033.5 322.9,1034.1 323.4,1036 326.9,1067 327.4,1067.8 334.9,1071 346.9,1079.3 353.4,1085.7 362.9,1092 378.4,1101.3 409.9,1108.4 439.4,1113.1 469.9,1116.1 482.4,1117.7 494.9,1119.6 554.9,1122.1 612.9,1123.1 670.2,1123.6 670.2,1125 554.9,1124 496.9,1122.4 479.9,1122.4 464.9,1122.1 446.9,1121.3 378.4,1116.3 346.9,1108.4 327.4,1103.1 326.9,1102.8 322.9,1093.2 322.4,1092.6 312.9,1089.7 312.4,1089.6 300.4,1093.4 299.9,1093.2 297.9,1076.6 296.9,1075.1 296.4,1068.1 295.9,1064.2 284.4,1079.2 272.9,1093.5 269.4,1085.1 268.9,1084.3 266.4,1088.9 263.9,1093 261.4,1096.6 256.9,1102.3 251.4,1108.1 246.9,1111.9 243.9,1114.1 239.4,1116.7 228.4,1121.6 224.9,1122.1 216.9,1122.3 209.4,1123 201.9,1123.5 199.4,1124.5" fill="#c89b9b" fill-opacity="0.5"/>
</g>
<rect x="177.1" y="920.8" width="516.7" height="213.5" fill="none" stroke="#333" stroke-width="2.13"/>
<rect x="177.1" y="866.4" width="516.7" height="53.45" fill="#d9d9d9" stroke="#333" stroke-width="2.13"/>
<text x="435.45" y="903.12" text-anchor="middle" font-size="27.5" fill="#1a1a1a" color="#1a1a1a">Abs: UK −> Swe</text>
<clipPath id="c7"><rect x="711.1" y="920.8" width="516.7" height="213.5"/></clipPath>
<g clip-path="url(#c7)">
<line x1="793.31" x2="793.31" y1="920.8" y2="1134.3" stroke="#ebebeb" stroke-width="1.6"/>
<line x1="911.02" x2="911.02" y1="920.8" y2="1134.3" stroke="#ebebeb" stroke-width="1.6"/>
<line x1="1028.73" x2="1028.73" y1="920.8" y2="1134.3" stroke="#ebebeb" stroke-width="1.6"/>
<line x1="1146.44" x2="1146.44" y1="920.8" y2="1134.3" stroke="#ebebeb" stroke-width="1.6"/>
<line x1="711.1" x2="1227.8" y1="1086.95" y2="1086.95" stroke="#ebebeb" stroke-width="1.6"/>
<line x1="711.1" x2="1227.8" y1="1011.65" y2="1011.65" stroke="#ebebeb" stroke-width="1.6"/>
<line x1="711.1" x2="1227.8" y1="936.35" y2="936.35" stroke="#ebebeb" stroke-width="1.6"/>
<line x1="733.48" x2="733.48" y1="920.8" y2="1134.3" stroke="#ebebeb" stroke-width="3.2"/>
<line x1="853.13" x2="853.13" y1="920.8" y2="1134.3" stroke="#ebebeb" stroke-width="3.2"/>
<line x1="968.91" x2="968.91" y1="920.8" y2="1134.3" stroke="#ebebeb" stroke-width="3.2"/>
<line x1="1088.55" x2="1088.55" y1="920.8" y2="1134.3" stroke="#ebebeb" stroke-width="3.2"/>
<line x1="1204.33" x2="1204.33" y1="920.8" y2="1134.3" stroke="#ebebeb" stroke-width="3.2"/>
<line x1="711.1" x2="1227.8" y1="1124.6" y2="1124.6" stroke="#ebebeb" stroke-width="3.2"/>
<line x1="711.1" x2="1227.8" y1="1049.3" y2="1049.3" stroke="#ebebeb" stroke-width="3.2"/>
<line x1="711.1" x2="1227.8" y1="974" y2="974" stroke="#ebebeb" stroke-width="3.2"/>
<polyline points="734.2,1123.4 741.8,1122.7 747.8,1121.8 753.9,1120.5 758.4,1119.2 761.5,1118.2 764.5,1116.9 769.1,1114.4 772.1,1112.3 773.6,1111.2 776.6,1108.4 780.2,1108.9 791.6,1095.1 803.3,1071.5 807.3,1092.7 818.3,1081 830.8,1069.2 834.4,1097.5 843.4,1096.4 857.5,1100.1 861.5,1108.4 881.1,1113.6 896.8,1117.1 912.5,1119.1 943.9,1121.5 973.8,1122.6 1015,1123.3 1064.5,1123.8 1130.5,1124.2 1204.7,1124.4" fill="none" stroke="#840000" stroke-width="6.4" stroke-linejoin="round"/>
<polygon points="734.2,1122.3 735.7,1122.5 741.7,1121.8 747.7,1120.9 751.7,1119.9 757.2,1117.3 762.7,1113.7 766.2,1111.9 768.7,1110.3 771.7,1108 775.2,1105 776.7,1103 779.2,1104.1 779.7,1104 782.2,1100.9 793.2,1080.6 803.2,1039.8 803.7,1042.6 806.7,1068.7 807.2,1070.4 830.2,1036.4 830.7,1040.4 832.7,1064.3 833.2,1066.7 833.7,1067.5 835.7,1082.1 836.2,1083.4 840.2,1080.2 840.7,1080.2 849.7,1081 857.2,1084.1 861.2,1098.1 861.7,1099.1 881.2,1105.4 896.7,1112.3 904.7,1114.4 913.2,1115.9 938.7,1118.3 973.7,1121 1080.7,1122.4 1204.7,1123.4 1204.7,1125.2 1196.2,1124.4 973.7,1124.2 938.7,1122.6 912.2,1122.2 904.2,1121.6 896.2,1120.7 890.7,1119.5 881.2,1118.7 861.7,1115.2 861.2,1114.8 857.7,1108.8 857.2,1108.4 834.7,1107.7 834.2,1106.7 832.7,1100.4 831.7,1099.2 831.2,1097.4 830.7,1093.5 830.2,1092.2 818.2,1096.7 806.7,1104.4 806.2,1103.6 802.7,1091 802.2,1090.8 780.2,1114.7 776.7,1113.2 773.7,1115.6 770.2,1117.9 766.2,1120.1 762.7,1121.6 757.7,1122 751.2,1122.1 744.7,1122.9 735.7,1123.6 734.2,1124.5" fill="#c89b9b" fill-opacity="0.5"/>
</g>
<rect x="711.1" y="920.8" width="516.7" height="213.5" fill="none" stroke="#333" stroke-width="2.13"/>
<rect x="711.1" y="866.4" width="516.7" height="53.45" fill="#d9d9d9" stroke="#333" stroke-width="2.13"/>
<text x="969.45" y="903.12" text-anchor="middle" font-size="27.5" fill="#1a1a1a" color="#1a1a1a">Rel: UK −> Swe</text>
<clipPath id="c8"><rect x="1245.1" y="920.8" width="516.7" height="213.5"/></clipPath>
<g clip-path="url(#c8)">
<line x1="1327.31" x2="1327.31" y1="920.8" y2="1134.3" stroke="#ebebeb" stroke-width="1.6"/>
<line x1="1445.02" x2="1445.02" y1="920.8" y2="1134.3" stroke="#ebebeb" stroke-width="1.6"/>
<line x1="1562.73" x2="1562.73" y1="920.8" y2="1134.3" stroke="#ebebeb" stroke-width="1.6"/>
<line x1="1680.44" x2="1680.44" y1="920.8" y2="1134.3" stroke="#ebebeb" stroke-width="1.6"/>
<line x1="1245.1" x2="1761.8" y1="1086.95" y2="1086.95" stroke="#ebebeb" stroke-width="1.6"/>
<line x1="1245.1" x2="1761.8" y1="1011.65" y2="1011.65" stroke="#ebebeb" stroke-width="1.6"/>
<line x1="1245.1" x2="1761.8" y1="936.35" y2="936.35" stroke="#ebebeb" stroke-width="1.6"/>
<line x1="1267.48" x2="1267.48" y1="920.8" y2="1134.3" stroke="#ebebeb" stroke-width="3.2"/>
<line x1="1387.13" x2="1387.13" y1="920.8" y2="1134.3" stroke="#ebebeb" stroke-width="3.2"/>
<line x1="1502.91" x2="1502.91" y1="920.8" y2="1134.3" stroke="#ebebeb" stroke-width="3.2"/>
<line x1="1622.55" x2="1622.55" y1="920.8" y2="1134.3" stroke="#ebebeb" stroke-width="3.2"/>
<line x1="1738.33" x2="1738.33" y1="920.8" y2="1134.3" stroke="#ebebeb" stroke-width="3.2"/>
<line x1="1245.1" x2="1761.8" y1="1124.6" y2="1124.6" stroke="#ebebeb" stroke-width="3.2"/>
<line x1="1245.1" x2="1761.8" y1="1049.3" y2="1049.3" stroke="#ebebeb" stroke-width="3.2"/>
<line x1="1245.1" x2="1761.8" y1="974" y2="974" stroke="#ebebeb" stroke-width="3.2"/>
<polyline points="1268.2,1123.4 1275.7,1122.7 1283.1,1121.6 1288.1,1120.5 1293.1,1119.1 1298,1117.1 1300.5,1115.9 1303,1114.5 1305.5,1112.8 1308,1110.7 1310.5,1108 1313,1104.9 1315.4,1101.4 1317.9,1097.3 1320.4,1092.6 1322.9,1087.3 1325.4,1081.5 1327.9,1075 1330.4,1067.7 1332.8,1059.7 1335.3,1050.8 1337.8,1040.9 1341.7,1066 1364.8,984.3 1368.4,1044.8 1375.8,1031.5 1383.7,1025.2 1392,1022.8 1395.9,1055 1402.5,1056.6 1415.1,1063.7 1423,1070.7 1445.7,1083.3 1449.3,1079.4 1473.2,1088 1507.8,1097.5 1526.9,1101.4 1553.6,1105.3 1607,1108.9 1611.7,1111.6 1633.7,1113.2 1638.4,1116.3 1665.1,1117.9 1680.8,1119.4 1738.2,1122.1" fill="none" stroke="#840000" stroke-width="6.4" stroke-linejoin="round"/>
<polygon points="1268.2,1122.3 1270.7,1122.4 1275.7,1121.7 1280.7,1120.8 1285.7,1119.7 1290.7,1117.3 1296.7,1113.7 1301.2,1111.3 1303.7,1109.6 1305.7,1107.9 1310.2,1102.7 1312.7,1099.1 1317.2,1091.2 1320.2,1084 1322.7,1076.9 1325.2,1068.6 1328.2,1056.9 1330.2,1048.1 1332.7,1035.3 1335.2,1020.5 1337.7,1003.1 1338.2,1007 1341.2,1041.1 1341.7,1039.9 1352.2,997.9 1358.2,970.9 1364.7,931.6 1365.2,939.3 1367.2,982.2 1367.7,983 1368.2,989 1369.7,1014.1 1374.2,1004.1 1374.7,1003.3 1383.7,989.8 1391.2,980.8 1391.7,982.8 1394.7,1021.1 1395.2,1022.7 1396.2,1030.9 1396.7,1033.2 1402.7,1033.9 1415.2,1038.6 1419.7,1043.1 1422.2,1049.6 1431.2,1056.8 1449.2,1064.4 1454.2,1067.5 1471.7,1069.3 1476.2,1076.8 1476.7,1077.1 1498.2,1080.1 1503.2,1087.3 1507.7,1088.8 1526.7,1090.1 1531.7,1094.3 1553.2,1095.1 1553.7,1095.2 1558.2,1099.7 1580.2,1099.8 1584.7,1102.8 1585.2,1102.9 1606.7,1102.2 1607.2,1102.4 1611.2,1107.1 1612.2,1107.7 1633.7,1107.4 1637.2,1111.1 1639.2,1112.4 1665.7,1114.2 1680.7,1116 1688.7,1116.1 1712.2,1115.5 1738.2,1110.8 1738.2,1125.7 1680.7,1122.8 1664.7,1121.5 1638.2,1120 1636.7,1119.5 1634.7,1118.2 1634.2,1118.1 1617.2,1115.7 1611.2,1115.3 1609.7,1114.7 1607.2,1114.3 1585.2,1111.6 1580.2,1113.6 1558.2,1110 1553.7,1112.3 1553.2,1112.3 1531.7,1107.7 1526.7,1109.5 1507.7,1106.1 1503.2,1103.8 1498.2,1105.3 1476.7,1099.1 1476.2,1099.1 1471.7,1100.6 1449.7,1090.5 1449.2,1090.6 1445.7,1097.4 1423.2,1085.8 1415.2,1082.6 1402.7,1073.2 1396.2,1071.6 1395.7,1071.3 1391.7,1055 1391.2,1054.2 1383.7,1052.7 1374.7,1055.7 1374.2,1055.9 1368.7,1063.3 1368.2,1061.7 1366.7,1048.5 1366.2,1046.9 1365.7,1046.1 1365.2,1042.8 1364.7,1034.4 1364.2,1029.7 1352.2,1054.4 1341.7,1078.6 1338.2,1071.6 1337.7,1071 1335.2,1077.3 1332.7,1083 1327.7,1092.6 1325.2,1096.8 1320.7,1103.2 1317.7,1106.8 1315.2,1109.4 1310.7,1113.3 1305.2,1117.4 1301.7,1119.4 1296.7,1121.6 1291.7,1122.1 1285.2,1122.1 1278.2,1123 1270.7,1123.5 1268.2,1124.5" fill="#c89b9b" fill-opacity="0.5"/>
</g>
<rect x="1245.1" y="920.8" width="516.7" height="213.5" fill="none" stroke="#333" stroke-width="2.13"/>
<rect x="1245.1" y="866.4" width="516.7" height="53.45" fill="#d9d9d9" stroke="#333" stroke-width="2.13"/>
<text x="1503.45" y="903.12" text-anchor="middle" font-size="27.5" fill="#1a1a1a" color="#1a1a1a">Fit Swe</text>
<line x1="1267.48" x2="1267.48" y1="1134.3" y2="1143.7" stroke="#333" stroke-width="3.2"/>
<line x1="1387.13" x2="1387.13" y1="1134.3" y2="1143.7" stroke="#333" stroke-width="3.2"/>
<line x1="1502.91" x2="1502.91" y1="1134.3" y2="1143.7" stroke="#333" stroke-width="3.2"/>
<line x1="1622.55" x2="1622.55" y1="1134.3" y2="1143.7" stroke="#333" stroke-width="3.2"/>
<line x1="1738.33" x2="1738.33" y1="1134.3" y2="1143.7" stroke="#333" stroke-width="3.2"/>
<line x1="167.5" x2="177.1" y1="1410.3" y2="1410.3" stroke="#333" stroke-width="3.2"/>
<text x="160.1" y="1423.6" text-anchor="end" font-size="36.5" fill="#000" color="#000">0</text>
<line x1="167.5" x2="177.1" y1="1335" y2="1335" stroke="#333" stroke-width="3.2"/>
<text x="160.1" y="1348.3" text-anchor="end" font-size="36.5" fill="#000" color="#000">10000</text>
<line x1="167.5" x2="177.1" y1="1259.7" y2="1259.7" stroke="#333" stroke-width="3.2"/>
<text x="160.1" y="1273" text-anchor="end" font-size="36.5" fill="#000" color="#000">20000</text>
<clipPath id="c9"><rect x="177.1" y="1206.5" width="516.7" height="213.5"/></clipPath>
<g clip-path="url(#c9)">
<line x1="259.31" x2="259.31" y1="1206.5" y2="1420" stroke="#ebebeb" stroke-width="1.6"/>
<line x1="377.02" x2="377.02" y1="1206.5" y2="1420" stroke="#ebebeb" stroke-width="1.6"/>
<line x1="494.73" x2="494.73" y1="1206.5" y2="1420" stroke="#ebebeb" stroke-width="1.6"/>
<line x1="612.44" x2="612.44" y1="1206.5" y2="1420" stroke="#ebebeb" stroke-width="1.6"/>
<line x1="177.1" x2="693.8" y1="1372.65" y2="1372.65" stroke="#ebebeb" stroke-width="1.6"/>
<line x1="177.1" x2="693.8" y1="1297.35" y2="1297.35" stroke="#ebebeb" stroke-width="1.6"/>
<line x1="177.1" x2="693.8" y1="1222.05" y2="1222.05" stroke="#ebebeb" stroke-width="1.6"/>
<line x1="199.48" x2="199.48" y1="1206.5" y2="1420" stroke="#ebebeb" stroke-width="3.2"/>
<line x1="319.13" x2="319.13" y1="1206.5" y2="1420" stroke="#ebebeb" stroke-width="3.2"/>
<line x1="434.91" x2="434.91" y1="1206.5" y2="1420" stroke="#ebebeb" stroke-width="3.2"/>
<line x1="554.55" x2="554.55" y1="1206.5" y2="1420" stroke="#ebebeb" stroke-width="3.2"/>
<line x1="670.33" x2="670.33" y1="1206.5" y2="1420" stroke="#ebebeb" stroke-width="3.2"/>
<line x1="177.1" x2="693.8" y1="1410.3" y2="1410.3" stroke="#ebebeb" stroke-width="3.2"/>
<line x1="177.1" x2="693.8" y1="1335" y2="1335" stroke="#ebebeb" stroke-width="3.2"/>
<line x1="177.1" x2="693.8" y1="1259.7" y2="1259.7" stroke="#ebebeb" stroke-width="3.2"/>
<polyline points="199.4,1409.2 207,1408.5 214.6,1407.3 220.6,1405.9 225.2,1404.4 229.7,1402.5 234.3,1399.9 237.3,1397.7 238.8,1396.4 241.8,1393.4 245.5,1398.2 257.6,1386.4 269,1375.7 272.9,1390.3 284.3,1383.2 296.8,1380.4 300.4,1393.4 312.5,1393 323.5,1395 327.5,1398.9 347.1,1402.4 378.5,1406 409.9,1408.1 439.8,1409.2 538.7,1409.8 670.5,1410.1" fill="none" stroke="#840000" stroke-width="6.4" stroke-linejoin="round"/>
<polygon points="199.4,1408.1 200.9,1408.3 210.4,1407.1 216.9,1405.8 219.4,1404.7 223.4,1402.4 227.9,1399.3 231.9,1397.1 235.4,1394.5 238.9,1391.2 241.9,1386.5 245.4,1391.8 258.9,1367.9 268.9,1343.4 272.4,1373.4 272.9,1373.3 279.4,1365.3 295.9,1354.5 296.4,1354.6 300.4,1380 312.4,1379.3 322.9,1381.6 323.4,1382 326.9,1388.6 327.4,1388.8 346.9,1392.6 353.4,1396.6 378.4,1401.3 439.9,1407.1 546.9,1408.3 670.5,1409.1 670.5,1410.9 661.9,1410.1 448.4,1410.1 439.9,1410.7 390.9,1408.8 377.4,1408.6 361.4,1407.6 354.9,1407 344.9,1405.8 327.4,1404.4 323.4,1402.9 300.4,1401.3 296.9,1396 296.4,1395.8 284.4,1396.6 272.4,1399.2 268.4,1393.5 245.4,1402.1 243.4,1401.1 241.4,1398.9 237.9,1401.7 234.4,1404.1 231.4,1405.7 227.9,1407.3 223.4,1407.7 216.9,1407.8 209.9,1408.7 200.9,1409.4 199.4,1410.3" fill="#c89b9b" fill-opacity="0.5"/>
</g>
<rect x="177.1" y="1206.5" width="516.7" height="213.5" fill="none" stroke="#333" stroke-width="2.13"/>
<rect x="177.1" y="1152.1" width="516.7" height="53.45" fill="#d9d9d9" stroke="#333" stroke-width="2.13"/>
<text x="435.45" y="1188.82" text-anchor="middle" font-size="27.5" fill="#1a1a1a" color="#1a1a1a">Abs: Dmk −> Swe</text>
<line x1="199.48" x2="199.48" y1="1420" y2="1429.4" stroke="#333" stroke-width="3.2"/>
<line x1="319.13" x2="319.13" y1="1420" y2="1429.4" stroke="#333" stroke-width="3.2"/>
<line x1="434.91" x2="434.91" y1="1420" y2="1429.4" stroke="#333" stroke-width="3.2"/>
<line x1="554.55" x2="554.55" y1="1420" y2="1429.4" stroke="#333" stroke-width="3.2"/>
<line x1="670.33" x2="670.33" y1="1420" y2="1429.4" stroke="#333" stroke-width="3.2"/>
<clipPath id="c10"><rect x="711.1" y="1206.5" width="516.7" height="213.5"/></clipPath>
<g clip-path="url(#c10)">
<line x1="793.31" x2="793.31" y1="1206.5" y2="1420" stroke="#ebebeb" stroke-width="1.6"/>
<line x1="911.02" x2="911.02" y1="1206.5" y2="1420" stroke="#ebebeb" stroke-width="1.6"/>
<line x1="1028.73" x2="1028.73" y1="1206.5" y2="1420" stroke="#ebebeb" stroke-width="1.6"/>
<line x1="1146.44" x2="1146.44" y1="1206.5" y2="1420" stroke="#ebebeb" stroke-width="1.6"/>
<line x1="711.1" x2="1227.8" y1="1372.65" y2="1372.65" stroke="#ebebeb" stroke-width="1.6"/>
<line x1="711.1" x2="1227.8" y1="1297.35" y2="1297.35" stroke="#ebebeb" stroke-width="1.6"/>
<line x1="711.1" x2="1227.8" y1="1222.05" y2="1222.05" stroke="#ebebeb" stroke-width="1.6"/>
<line x1="733.48" x2="733.48" y1="1206.5" y2="1420" stroke="#ebebeb" stroke-width="3.2"/>
<line x1="853.13" x2="853.13" y1="1206.5" y2="1420" stroke="#ebebeb" stroke-width="3.2"/>
<line x1="968.91" x2="968.91" y1="1206.5" y2="1420" stroke="#ebebeb" stroke-width="3.2"/>
<line x1="1088.55" x2="1088.55" y1="1206.5" y2="1420" stroke="#ebebeb" stroke-width="3.2"/>
<line x1="1204.33" x2="1204.33" y1="1206.5" y2="1420" stroke="#ebebeb" stroke-width="3.2"/>
<line x1="711.1" x2="1227.8" y1="1410.3" y2="1410.3" stroke="#ebebeb" stroke-width="3.2"/>
<line x1="711.1" x2="1227.8" y1="1335" y2="1335" stroke="#ebebeb" stroke-width="3.2"/>
<line x1="711.1" x2="1227.8" y1="1259.7" y2="1259.7" stroke="#ebebeb" stroke-width="3.2"/>
<polyline points="734.2,1409.2 741.8,1408.5 749.4,1407.3 755.4,1405.9 760,1404.4 764.5,1402.5 769.1,1399.9 772.1,1397.7 773.6,1396.4 776.6,1393.4 780.2,1397.4 791.6,1384.8 803.3,1371 807.3,1387.9 818.3,1380.1 830.8,1374.1 834.8,1388.7 846.5,1388.7 857.5,1390.8 861.5,1395.5 881.1,1399.3 912.5,1403.3 943.9,1406 973.8,1407.6 998.5,1408.2 1039.8,1409 1081,1409.5 1138.7,1409.9 1204.7,1410.1" fill="none" stroke="#840000" stroke-width="6.4" stroke-linejoin="round"/>
<polygon points="734.2,1408.1 735.7,1408.3 741.7,1407.7 747.7,1406.7 752.2,1405.6 758.2,1402.4 762.7,1399.3 767.2,1396.7 770.2,1394.5 771.7,1393.2 772.7,1391.8 775.7,1386.6 776.2,1386.6 780.2,1388.7 793.2,1362.5 803.2,1332.5 803.7,1335.9 806.7,1365.2 807.2,1367.1 813.7,1356.4 830.7,1338.6 834.7,1370.3 835.2,1370.6 841.7,1369.1 857.2,1371.5 861.2,1381.1 861.7,1381.7 881.2,1386.4 887.2,1388.7 893.7,1391.9 912.7,1395.8 943.7,1401.3 974.2,1404.9 1023.2,1406.4 1072.7,1407.5 1130.7,1408.4 1204.7,1409.1 1204.7,1410.9 1196.2,1410.1 973.7,1409.9 958.7,1409.2 931.7,1408.3 913.7,1407.1 907.2,1406.4 861.7,1402.9 857.7,1400.6 857.2,1400.5 835.2,1399.7 834.7,1399.7 830.7,1393.5 818.2,1394.2 806.7,1397.3 806.2,1397 802.7,1392.1 802.2,1392 780.2,1402.8 778.7,1400.9 776.7,1398.8 776.2,1398.9 772.7,1401.7 769.2,1404.1 766.2,1405.7 762.7,1407.3 758.2,1407.7 751.7,1407.8 744.7,1408.7 735.7,1409.4 734.2,1410.3" fill="#c89b9b" fill-opacity="0.5"/>
</g>
<rect x="711.1" y="1206.5" width="516.7" height="213.5" fill="none" stroke="#333" stroke-width="2.13"/>
<rect x="711.1" y="1152.1" width="516.7" height="53.45" fill="#d9d9d9" stroke="#333" stroke-width="2.13"/>
<text x="969.45" y="1188.82" text-anchor="middle" font-size="27.5" fill="#1a1a1a" color="#1a1a1a">Rel: Dmk −> Swe</text>
<line x1="733.48" x2="733.48" y1="1420" y2="1429.4" stroke="#333" stroke-width="3.2"/>
<line x1="853.13" x2="853.13" y1="1420" y2="1429.4" stroke="#333" stroke-width="3.2"/>
<line x1="968.91" x2="968.91" y1="1420" y2="1429.4" stroke="#333" stroke-width="3.2"/>
<line x1="1088.55" x2="1088.55" y1="1420" y2="1429.4" stroke="#333" stroke-width="3.2"/>
<line x1="1204.33" x2="1204.33" y1="1420" y2="1429.4" stroke="#333" stroke-width="3.2"/>
<text transform="translate(1267.48 1151.8) rotate(-60)" text-anchor="end" font-size="36.5" fill="#000" color="#000" dy="26.13">Mar '20</text>
<text transform="translate(1387.13 1151.8) rotate(-60)" text-anchor="end" font-size="36.5" fill="#000" color="#000" dy="26.13">Apr '20</text>
<text transform="translate(1502.91 1151.8) rotate(-60)" text-anchor="end" font-size="36.5" fill="#000" color="#000" dy="26.13">May '20</text>
<text transform="translate(1622.55 1151.8) rotate(-60)" text-anchor="end" font-size="36.5" fill="#000" color="#000" dy="26.13">Jun '20</text>
<text transform="translate(1738.33 1151.8) rotate(-60)" text-anchor="end" font-size="36.5" fill="#000" color="#000" dy="26.13">Jul '20</text>
<text transform="translate(199.48 1437.5) rotate(-60)" text-anchor="end" font-size="36.5" fill="#000" color="#000" dy="26.13">Mar '20</text>
<text transform="translate(319.13 1437.5) rotate(-60)" text-anchor="end" font-size="36.5" fill="#000" color="#000" dy="26.13">Apr '20</text>
<text transform="translate(434.91 1437.5) rotate(-60)" text-anchor="end" font-size="36.5" fill="#000" color="#000" dy="26.13">May '20</text>
<text transform="translate(554.55 1437.5) rotate(-60)" text-anchor="end" font-size="36.5" fill="#000" color="#000" dy="26.13">Jun '20</text>
<text transform="translate(670.33 1437.5) rotate(-60)" text-anchor="end" font-size="36.5" fill="#000" color="#000" dy="26.13">Jul '20</text>
<text transform="translate(733.48 1437.5) rotate(-60)" text-anchor="end" font-size="36.5" fill="#000" color="#000" dy="26.13">Mar '20</text>
<text transform="translate(853.13 1437.5) rotate(-60)" text-anchor="end" font-size="36.5" fill="#000" color="#000" dy="26.13">Apr '20</text>
<text transform="translate(968.91 1437.5) rotate(-60)" text-anchor="end" font-size="36.5" fill="#000" color="#000" dy="26.13">May '20</text>
<text transform="translate(1088.55 1437.5) rotate(-60)" text-anchor="end" font-size="36.5" fill="#000" color="#000" dy="26.13">Jun '20</text>
<text transform="translate(1204.33 1437.5) rotate(-60)" text-anchor="end" font-size="36.5" fill="#000" color="#000" dy="26.13">Jul '20</text>
</g>
<g>
<text x="199" y="1646" font-size="39.7" fill="#000" color="#000">United Kingdom</text>
<text transform="translate(31.6 1975.65) rotate(-90)" text-anchor="middle" font-size="36.5" fill="#000" color="#000">Infections</text>
<line x1="190" x2="199.6" y1="1930.3" y2="1930.3" stroke="#333" stroke-width="3.2"/>
<text x="182.6" y="1943.6" text-anchor="end" font-size="36.5" fill="#000" color="#000">0</text>
<line x1="190" x2="199.6" y1="1875.8" y2="1875.8" stroke="#333" stroke-width="3.2"/>
<text x="182.6" y="1889.1" text-anchor="end" font-size="36.5" fill="#000" color="#000">250000</text>
<line x1="190" x2="199.6" y1="1821.3" y2="1821.3" stroke="#333" stroke-width="3.2"/>
<text x="182.6" y="1834.6" text-anchor="end" font-size="36.5" fill="#000" color="#000">500000</text>
<line x1="190" x2="199.6" y1="1766.8" y2="1766.8" stroke="#333" stroke-width="3.2"/>
<text x="182.6" y="1780.1" text-anchor="end" font-size="36.5" fill="#000" color="#000">750000</text>
<clipPath id="c11"><rect x="199.6" y="1726.3" width="509.2" height="213.5"/></clipPath>
<g clip-path="url(#c11)">
<line x1="280.61" x2="280.61" y1="1726.3" y2="1939.8" stroke="#ebebeb" stroke-width="1.6"/>
<line x1="396.62" x2="396.62" y1="1726.3" y2="1939.8" stroke="#ebebeb" stroke-width="1.6"/>
<line x1="512.62" x2="512.62" y1="1726.3" y2="1939.8" stroke="#ebebeb" stroke-width="1.6"/>
<line x1="628.62" x2="628.62" y1="1726.3" y2="1939.8" stroke="#ebebeb" stroke-width="1.6"/>
<line x1="199.6" x2="708.8" y1="1903.05" y2="1903.05" stroke="#ebebeb" stroke-width="1.6"/>
<line x1="199.6" x2="708.8" y1="1848.55" y2="1848.55" stroke="#ebebeb" stroke-width="1.6"/>
<line x1="199.6" x2="708.8" y1="1794.05" y2="1794.05" stroke="#ebebeb" stroke-width="1.6"/>
<line x1="199.6" x2="708.8" y1="1739.55" y2="1739.55" stroke="#ebebeb" stroke-width="1.6"/>
<line x1="221.66" x2="221.66" y1="1726.3" y2="1939.8" stroke="#ebebeb" stroke-width="3.2"/>
<line x1="339.57" x2="339.57" y1="1726.3" y2="1939.8" stroke="#ebebeb" stroke-width="3.2"/>
<line x1="453.67" x2="453.67" y1="1726.3" y2="1939.8" stroke="#ebebeb" stroke-width="3.2"/>
<line x1="571.57" x2="571.57" y1="1726.3" y2="1939.8" stroke="#ebebeb" stroke-width="3.2"/>
<line x1="685.68" x2="685.68" y1="1726.3" y2="1939.8" stroke="#ebebeb" stroke-width="3.2"/>
<line x1="199.6" x2="708.8" y1="1930.3" y2="1930.3" stroke="#ebebeb" stroke-width="3.2"/>
<line x1="199.6" x2="708.8" y1="1875.8" y2="1875.8" stroke="#ebebeb" stroke-width="3.2"/>
<line x1="199.6" x2="708.8" y1="1821.3" y2="1821.3" stroke="#ebebeb" stroke-width="3.2"/>
<line x1="199.6" x2="708.8" y1="1766.8" y2="1766.8" stroke="#ebebeb" stroke-width="3.2"/>
<polyline points="222.2,1929.9 229.6,1929.7 235.6,1929.3 241.5,1928.7 246,1928 251.9,1926.6 256.4,1925 260.9,1922.8 263.8,1920.8 267.8,1922.4 270.2,1921 273.4,1918.7 275.8,1916.6 279,1913.1 281.4,1910 283.8,1906.4 286.2,1902 288.6,1896.9 290.2,1893 293.7,1904.8 317.3,1870.2 320.9,1896.6 328.3,1891.5 336.1,1889.4 343.2,1889.1 347.1,1903.2 353.4,1904 369.1,1908.7 384.8,1913 397.4,1915.8 400.5,1913.4 431.9,1918.6 461.8,1922.1 512.3,1924.5 556.3,1925.7 560.2,1926.8 584.5,1927.6 587.7,1928.7 634.8,1929.7 685.4,1930" fill="none" stroke="#840000" stroke-width="6.4" stroke-linejoin="round"/>
<polygon points="222.2,1928.7 223.7,1929.7 234.2,1929.1 243.2,1928 247.2,1927.2 250.7,1926.3 252.2,1925.6 255.2,1923.5 257.7,1921.4 260.2,1918.9 262.2,1917.6 263.2,1917.3 264.7,1917.3 267.2,1918.2 267.7,1918.2 271.2,1915.8 274.7,1912.6 276.7,1909.3 279.2,1904.4 281.2,1899.5 283.2,1893.8 284.7,1888.9 286.7,1881.1 288.7,1872 290.2,1864.1 293.7,1887.5 306.2,1859.4 312.7,1843.1 317.2,1830.3 320.2,1867.4 321.7,1879 328.2,1870.3 336.2,1865.5 343.2,1863.3 343.7,1863.5 347.2,1884.7 347.7,1886 353.7,1887.6 365.7,1892.1 372.2,1896.1 384.7,1900.8 397.2,1904.8 400.7,1906.4 419.2,1908.7 425.7,1911.9 447.7,1914.2 461.7,1918.1 467.2,1918.6 489.7,1919.7 512.2,1921.4 556.2,1923.5 560.2,1924.6 587.7,1927.5 634.7,1928.9 685.4,1929.3 685.4,1930.8 634.7,1930.4 587.7,1929.8 560.2,1927.5 556.2,1927.9 510.2,1927.5 487.7,1927 461.2,1925.7 446.2,1924 431.7,1922.8 400.7,1919.3 397.2,1920.5 369.2,1915.8 347.7,1911.9 347.2,1911.5 343.2,1904.1 342.7,1904 337.7,1903.2 328.7,1904.7 321.2,1907.8 320.7,1907.3 318.7,1899.3 317.7,1897.3 317.2,1893.6 316.7,1892.5 306.2,1903.3 293.7,1913.4 290.2,1908.8 285.7,1912.9 280.7,1916.6 278.2,1919.2 275.2,1921.8 272.2,1924 268.7,1925.9 267.2,1926 264.2,1925 261.2,1926.8 259.7,1927.4 255.7,1927.7 251.2,1927.7 246.7,1928.4 240.7,1929.1 233.2,1929.7 223.7,1930 222.2,1931.2" fill="#c89b9b" fill-opacity="0.5"/>
</g>
<rect x="199.6" y="1726.3" width="509.2" height="213.5" fill="none" stroke="#333" stroke-width="2.13"/>
<rect x="199.6" y="1671.9" width="509.2" height="53.45" fill="#d9d9d9" stroke="#333" stroke-width="2.13"/>
<text x="454.2" y="1708.62" text-anchor="middle" font-size="27.5" fill="#1a1a1a" color="#1a1a1a">Abs: Swe −> UK</text>
<clipPath id="c12"><rect x="726.1" y="1726.3" width="509.2" height="213.5"/></clipPath>
<g clip-path="url(#c12)">
<line x1="807.11" x2="807.11" y1="1726.3" y2="1939.8" stroke="#ebebeb" stroke-width="1.6"/>
<line x1="923.12" x2="923.12" y1="1726.3" y2="1939.8" stroke="#ebebeb" stroke-width="1.6"/>
<line x1="1039.12" x2="1039.12" y1="1726.3" y2="1939.8" stroke="#ebebeb" stroke-width="1.6"/>
<line x1="1155.12" x2="1155.12" y1="1726.3" y2="1939.8" stroke="#ebebeb" stroke-width="1.6"/>
<line x1="726.1" x2="1235.3" y1="1903.05" y2="1903.05" stroke="#ebebeb" stroke-width="1.6"/>
<line x1="726.1" x2="1235.3" y1="1848.55" y2="1848.55" stroke="#ebebeb" stroke-width="1.6"/>
<line x1="726.1" x2="1235.3" y1="1794.05" y2="1794.05" stroke="#ebebeb" stroke-width="1.6"/>
<line x1="726.1" x2="1235.3" y1="1739.55" y2="1739.55" stroke="#ebebeb" stroke-width="1.6"/>
<line x1="748.16" x2="748.16" y1="1726.3" y2="1939.8" stroke="#ebebeb" stroke-width="3.2"/>
<line x1="866.07" x2="866.07" y1="1726.3" y2="1939.8" stroke="#ebebeb" stroke-width="3.2"/>
<line x1="980.17" x2="980.17" y1="1726.3" y2="1939.8" stroke="#ebebeb" stroke-width="3.2"/>
<line x1="1098.07" x2="1098.07" y1="1726.3" y2="1939.8" stroke="#ebebeb" stroke-width="3.2"/>
<line x1="1212.18" x2="1212.18" y1="1726.3" y2="1939.8" stroke="#ebebeb" stroke-width="3.2"/>
<line x1="726.1" x2="1235.3" y1="1930.3" y2="1930.3" stroke="#ebebeb" stroke-width="3.2"/>
<line x1="726.1" x2="1235.3" y1="1875.8" y2="1875.8" stroke="#ebebeb" stroke-width="3.2"/>
<line x1="726.1" x2="1235.3" y1="1821.3" y2="1821.3" stroke="#ebebeb" stroke-width="3.2"/>
<line x1="726.1" x2="1235.3" y1="1766.8" y2="1766.8" stroke="#ebebeb" stroke-width="3.2"/>
<polyline points="748.7,1929.9 758.5,1929.6 765.9,1929 773.2,1928.1 778.1,1927.2 783,1925.9 785.4,1925 787.9,1923.9 790.3,1922.4 792.8,1920.7 795.2,1918.6 797.7,1916.1 800.1,1913.3 802.6,1909.9 805,1906 807.5,1901.5 809.9,1896.3 812.3,1890.4 814.8,1883.6 817.2,1875.7 820.7,1891.5 843.8,1819.2 847.7,1864.7 855.3,1851.4 863.1,1842.8 870.6,1838 874.4,1866.3 880.4,1865.5 888.2,1868.7 896.1,1873.4 924.4,1887.5 927.5,1882.8 951.1,1891.5 958.9,1892.6 988.8,1901.7 1004.7,1904 1029.8,1908.7 1083.3,1913.4 1087.2,1915.8 1110,1917.4 1113.9,1920.2 1136.7,1922.1 1140.6,1923.7 1161.8,1925.2 1212.4,1928.1" fill="none" stroke="#840000" stroke-width="6.4" stroke-linejoin="round"/>
<polygon points="748.7,1928.7 751.2,1929.6 763.2,1928.8 768.2,1928.3 773.2,1927.4 779.7,1925.8 782.7,1924.1 785.2,1922.4 788.7,1919.2 792.7,1916 795.2,1913.5 798.7,1909.1 800.2,1906.4 802.2,1902 804.7,1895.3 807.2,1887 809.7,1876.8 812.2,1864 814.7,1848 817.2,1827.9 820.7,1866.9 833.2,1809.1 839.7,1766.6 843.7,1735.5 848.2,1821.4 855.2,1802.7 863.2,1790 870.2,1783.4 870.7,1784.3 874.2,1832.4 874.7,1834.8 880.2,1833.4 880.7,1833.4 888.2,1835.7 895.7,1839.4 896.2,1839.9 899.2,1846.7 908.7,1855.4 924.2,1862.3 927.7,1863.3 938.2,1867 950.2,1867.9 953.2,1875.2 953.7,1875.8 976.2,1878.1 980.2,1886.8 988.7,1888.3 1003.7,1890.3 1007.7,1894.5 1008.2,1894.6 1029.7,1895.4 1034.7,1900.1 1056.2,1900.4 1056.7,1900.6 1060.2,1903.8 1060.7,1904 1083.2,1903.6 1087.2,1908.7 1109.7,1909.2 1110.2,1909.6 1113.7,1914.3 1114.2,1914.6 1136.7,1916.6 1140.7,1919 1161.7,1920.5 1188.2,1920.5 1193.2,1918.2 1212.4,1915.8 1212.4,1931.5 1140.2,1927.3 1139.2,1927.1 1136.2,1925.9 1113.7,1923.9 1112.2,1923.4 1083.2,1919.7 1060.7,1916.6 1056.7,1918.1 1056.2,1918.1 1034.7,1915 1029.7,1916.6 1008.2,1911.2 1007.7,1911.2 1003.7,1913.4 988.7,1911.1 980.2,1908.8 976.2,1910.3 953.7,1904.1 953.2,1904.1 949.7,1905.5 949.2,1905.5 927.7,1899.4 927.2,1899.8 924.7,1904.2 924.2,1904.8 896.2,1894.6 880.7,1888.5 880.2,1888.3 874.7,1888.3 874.2,1887.8 870.2,1875.9 869.7,1875.7 864.7,1875.7 855.2,1878.9 847.7,1887.2 847.2,1886.7 843.7,1868.5 843.2,1867.5 833.2,1884.4 820.7,1903.9 817.2,1899.3 814.7,1903.8 812.2,1907.6 809.7,1911 807.2,1913.9 804.7,1916.4 799.7,1920.5 795.7,1923 792.2,1925.5 788.7,1927.5 784.7,1928 779.7,1928.1 768.2,1929.3 751.2,1930 748.7,1931.2" fill="#c89b9b" fill-opacity="0.5"/>
</g>
<rect x="726.1" y="1726.3" width="509.2" height="213.5" fill="none" stroke="#333" stroke-width="2.13"/>
<rect x="726.1" y="1671.9" width="509.2" height="53.45" fill="#d9d9d9" stroke="#333" stroke-width="2.13"/>
<text x="980.7" y="1708.62" text-anchor="middle" font-size="27.5" fill="#1a1a1a" color="#1a1a1a">Rel: Swe −> UK</text>
<clipPath id="c13"><rect x="1252.6" y="1726.3" width="509.2" height="213.5"/></clipPath>
<g clip-path="url(#c13)">
<line x1="1333.61" x2="1333.61" y1="1726.3" y2="1939.8" stroke="#ebebeb" stroke-width="1.6"/>
<line x1="1449.62" x2="1449.62" y1="1726.3" y2="1939.8" stroke="#ebebeb" stroke-width="1.6"/>
<line x1="1565.62" x2="1565.62" y1="1726.3" y2="1939.8" stroke="#ebebeb" stroke-width="1.6"/>
<line x1="1681.62" x2="1681.62" y1="1726.3" y2="1939.8" stroke="#ebebeb" stroke-width="1.6"/>
<line x1="1252.6" x2="1761.8" y1="1903.05" y2="1903.05" stroke="#ebebeb" stroke-width="1.6"/>
<line x1="1252.6" x2="1761.8" y1="1848.55" y2="1848.55" stroke="#ebebeb" stroke-width="1.6"/>
<line x1="1252.6" x2="1761.8" y1="1794.05" y2="1794.05" stroke="#ebebeb" stroke-width="1.6"/>
<line x1="1252.6" x2="1761.8" y1="1739.55" y2="1739.55" stroke="#ebebeb" stroke-width="1.6"/>
<line x1="1274.66" x2="1274.66" y1="1726.3" y2="1939.8" stroke="#ebebeb" stroke-width="3.2"/>
<line x1="1392.57" x2="1392.57" y1="1726.3" y2="1939.8" stroke="#ebebeb" stroke-width="3.2"/>
<line x1="1506.67" x2="1506.67" y1="1726.3" y2="1939.8" stroke="#ebebeb" stroke-width="3.2"/>
<line x1="1624.57" x2="1624.57" y1="1726.3" y2="1939.8" stroke="#ebebeb" stroke-width="3.2"/>
<line x1="1738.68" x2="1738.68" y1="1726.3" y2="1939.8" stroke="#ebebeb" stroke-width="3.2"/>
<line x1="1252.6" x2="1761.8" y1="1930.3" y2="1930.3" stroke="#ebebeb" stroke-width="3.2"/>
<line x1="1252.6" x2="1761.8" y1="1875.8" y2="1875.8" stroke="#ebebeb" stroke-width="3.2"/>
<line x1="1252.6" x2="1761.8" y1="1821.3" y2="1821.3" stroke="#ebebeb" stroke-width="3.2"/>
<line x1="1252.6" x2="1761.8" y1="1766.8" y2="1766.8" stroke="#ebebeb" stroke-width="3.2"/>
<polyline points="1275.4,1929.9 1289.1,1929.3 1295.1,1928.7 1299.7,1928.1 1305.7,1926.9 1310.3,1925.5 1314.8,1923.5 1317.8,1921.8 1321,1922.4 1325,1920 1328.2,1917.7 1331.4,1914.7 1333.8,1912.1 1336.2,1909 1338.6,1905.4 1341,1901.1 1343.5,1896.2 1347.7,1909.5 1360.3,1895.4 1370.5,1886 1374.4,1907.9 1383.8,1905.6 1396.4,1907.2 1400.3,1915.5 1423.1,1920.2 1438.8,1922.9 1470.2,1925.2 1515.8,1927.6 1565.7,1928.8 1624.7,1929.9 1738.8,1930.2" fill="none" stroke="#840000" stroke-width="6.4" stroke-linejoin="round"/>
<polygon points="1275.4,1928.7 1276.9,1929.7 1284.9,1929.3 1294.9,1928.4 1302.9,1926.9 1305.9,1926.1 1308.4,1924.6 1311.9,1922.1 1315.9,1918.7 1316.9,1918.2 1317.9,1918.1 1320.4,1918.5 1322.4,1917.4 1325.9,1914.9 1328.9,1912.2 1332.4,1908.2 1335.4,1903.9 1336.9,1901.3 1339.4,1895.7 1341.4,1890.5 1343.4,1884.5 1344.9,1892.1 1345.4,1893.2 1346.4,1894.4 1348.9,1902.2 1349.4,1902.1 1360.4,1887.3 1370.4,1871.1 1371.9,1882.7 1372.9,1883.4 1373.4,1884.2 1376.9,1902.8 1383.9,1899.3 1396.4,1898.6 1397.9,1903.2 1398.4,1904.2 1399.4,1905.5 1402.4,1911.8 1402.9,1912.3 1423.4,1916.5 1438.9,1919.1 1454.4,1920.6 1470.4,1922.7 1500.4,1925.5 1515.9,1926.5 1565.9,1927.9 1624.9,1929.3 1738.8,1929.8 1738.8,1930.8 1624.9,1930.5 1565.9,1929.8 1515.9,1928.7 1500.4,1928.1 1470.4,1927.8 1444.4,1927 1438.4,1926.5 1422.4,1923.8 1399.4,1919.1 1397.9,1918.1 1394.9,1912.6 1383.9,1911.9 1374.4,1911.9 1372.9,1911.3 1371.9,1910.5 1371.4,1909.7 1368.9,1895.9 1368.4,1895.1 1360.4,1903.1 1353.9,1908 1350.4,1911.8 1349.4,1912.6 1348.4,1912.9 1347.4,1912.9 1346.4,1912.6 1345.4,1911.8 1344.4,1910.5 1342.9,1905.7 1342.4,1905.8 1337.9,1912.6 1335.4,1915.7 1333.4,1917.8 1330.9,1920.1 1327.9,1922.4 1324.4,1924.7 1321.9,1925.9 1320.4,1926.1 1318.4,1925.7 1315.4,1927.3 1312.9,1927.7 1305.9,1927.8 1298.9,1928.8 1291.4,1929.4 1277.4,1930 1276.9,1930.1 1275.4,1931.2" fill="#c89b9b" fill-opacity="0.5"/>
</g>
<rect x="1252.6" y="1726.3" width="509.2" height="213.5" fill="none" stroke="#333" stroke-width="2.13"/>
<rect x="1252.6" y="1671.9" width="509.2" height="53.45" fill="#d9d9d9" stroke="#333" stroke-width="2.13"/>
<text x="1507.2" y="1708.62" text-anchor="middle" font-size="27.5" fill="#1a1a1a" color="#1a1a1a">Fit UK</text>
<line x1="1274.66" x2="1274.66" y1="1939.8" y2="1949.2" stroke="#333" stroke-width="3.2"/>
<line x1="1392.57" x2="1392.57" y1="1939.8" y2="1949.2" stroke="#333" stroke-width="3.2"/>
<line x1="1506.67" x2="1506.67" y1="1939.8" y2="1949.2" stroke="#333" stroke-width="3.2"/>
<line x1="1624.57" x2="1624.57" y1="1939.8" y2="1949.2" stroke="#333" stroke-width="3.2"/>
<line x1="1738.68" x2="1738.68" y1="1939.8" y2="1949.2" stroke="#333" stroke-width="3.2"/>
<line x1="190" x2="199.6" y1="2216" y2="2216" stroke="#333" stroke-width="3.2"/>
<text x="182.6" y="2229.3" text-anchor="end" font-size="36.5" fill="#000" color="#000">0</text>
<line x1="190" x2="199.6" y1="2161.5" y2="2161.5" stroke="#333" stroke-width="3.2"/>
<text x="182.6" y="2174.8" text-anchor="end" font-size="36.5" fill="#000" color="#000">250000</text>
<line x1="190" x2="199.6" y1="2107" y2="2107" stroke="#333" stroke-width="3.2"/>
<text x="182.6" y="2120.3" text-anchor="end" font-size="36.5" fill="#000" color="#000">500000</text>
<line x1="190" x2="199.6" y1="2052.5" y2="2052.5" stroke="#333" stroke-width="3.2"/>
<text x="182.6" y="2065.8" text-anchor="end" font-size="36.5" fill="#000" color="#000">750000</text>
<clipPath id="c14"><rect x="199.6" y="2012" width="509.2" height="213.5"/></clipPath>
<g clip-path="url(#c14)">
<line x1="280.61" x2="280.61" y1="2012" y2="2225.5" stroke="#ebebeb" stroke-width="1.6"/>
<line x1="396.62" x2="396.62" y1="2012" y2="2225.5" stroke="#ebebeb" stroke-width="1.6"/>
<line x1="512.62" x2="512.62" y1="2012" y2="2225.5" stroke="#ebebeb" stroke-width="1.6"/>
<line x1="628.62" x2="628.62" y1="2012" y2="2225.5" stroke="#ebebeb" stroke-width="1.6"/>
<line x1="199.6" x2="708.8" y1="2188.75" y2="2188.75" stroke="#ebebeb" stroke-width="1.6"/>
<line x1="199.6" x2="708.8" y1="2134.25" y2="2134.25" stroke="#ebebeb" stroke-width="1.6"/>
<line x1="199.6" x2="708.8" y1="2079.75" y2="2079.75" stroke="#ebebeb" stroke-width="1.6"/>
<line x1="199.6" x2="708.8" y1="2025.25" y2="2025.25" stroke="#ebebeb" stroke-width="1.6"/>
<line x1="221.66" x2="221.66" y1="2012" y2="2225.5" stroke="#ebebeb" stroke-width="3.2"/>
<line x1="339.57" x2="339.57" y1="2012" y2="2225.5" stroke="#ebebeb" stroke-width="3.2"/>
<line x1="453.67" x2="453.67" y1="2012" y2="2225.5" stroke="#ebebeb" stroke-width="3.2"/>
<line x1="571.57" x2="571.57" y1="2012" y2="2225.5" stroke="#ebebeb" stroke-width="3.2"/>
<line x1="685.68" x2="685.68" y1="2012" y2="2225.5" stroke="#ebebeb" stroke-width="3.2"/>
<line x1="199.6" x2="708.8" y1="2216" y2="2216" stroke="#ebebeb" stroke-width="3.2"/>
<line x1="199.6" x2="708.8" y1="2161.5" y2="2161.5" stroke="#ebebeb" stroke-width="3.2"/>
<line x1="199.6" x2="708.8" y1="2107" y2="2107" stroke="#ebebeb" stroke-width="3.2"/>
<line x1="199.6" x2="708.8" y1="2052.5" y2="2052.5" stroke="#ebebeb" stroke-width="3.2"/>
<polyline points="222.2,2215.2 229.6,2214.7 235.6,2214.2 241.5,2213.6 247.5,2212.6 251.9,2211.7 256.4,2210.5 260.9,2209 263.8,2207.8 267.3,2210.9 279.6,2205.7 290.2,2201 294,2207.3 306.3,2204.2 316.9,2203.1 320.7,2208.9 342.4,2208.9 347.1,2210.9 369.1,2212 416.2,2214.1 524.8,2215.7 685.4,2216" fill="none" stroke="#840000" stroke-width="6.4" stroke-linejoin="round"/>
<polygon points="222.2,2214.1 223.7,2214.6 232.7,2213.9 241.2,2212.9 248.2,2211.6 253.7,2209.2 260.7,2205.2 263.2,2204.2 264.2,2204.2 265.2,2204.5 267.2,2207.5 267.7,2207.5 271.2,2205.3 274.2,2204 279.7,2200 290.2,2187.7 293.2,2199.3 294.7,2201.7 295.2,2202 306.2,2196.3 316.7,2192.8 317.2,2193.6 319.2,2200.3 322.2,2204.8 322.7,2204.9 329.7,2203.7 342.7,2204.6 343.2,2204.7 344.2,2205.6 347.2,2207.8 347.7,2207.9 380.2,2210.6 416.2,2212.5 524.7,2214.9 685.4,2215.3 685.4,2216.6 524.7,2216.4 416.2,2215.6 380.2,2214.3 346.7,2213.8 343.7,2213.2 341.7,2212.6 320.2,2212.5 319.2,2212.2 318.2,2211.4 315.7,2207.6 315.2,2207.1 303.7,2208.6 294.7,2210.9 293.7,2210.9 292.7,2210.6 291.2,2209.4 289.2,2206.1 288.7,2205.8 272.2,2212.8 269.2,2213.5 265.2,2213.8 263.2,2212 260.7,2212.9 258.7,2213.2 254.2,2213.4 248.2,2213.4 237.2,2214.6 223.7,2215.3 222.2,2216.3" fill="#c89b9b" fill-opacity="0.5"/>
</g>
<rect x="199.6" y="2012" width="509.2" height="213.5" fill="none" stroke="#333" stroke-width="2.13"/>
<rect x="199.6" y="1957.6" width="509.2" height="53.45" fill="#d9d9d9" stroke="#333" stroke-width="2.13"/>
<text x="454.2" y="1994.32" text-anchor="middle" font-size="27.5" fill="#1a1a1a" color="#1a1a1a">Abs: Dmk −> UK</text>
<line x1="221.66" x2="221.66" y1="2225.5" y2="2234.9" stroke="#333" stroke-width="3.2"/>
<line x1="339.57" x2="339.57" y1="2225.5" y2="2234.9" stroke="#333" stroke-width="3.2"/>
<line x1="453.67" x2="453.67" y1="2225.5" y2="2234.9" stroke="#333" stroke-width="3.2"/>
<line x1="571.57" x2="571.57" y1="2225.5" y2="2234.9" stroke="#333" stroke-width="3.2"/>
<line x1="685.68" x2="685.68" y1="2225.5" y2="2234.9" stroke="#333" stroke-width="3.2"/>
<clipPath id="c15"><rect x="726.1" y="2012" width="509.2" height="213.5"/></clipPath>
<g clip-path="url(#c15)">
<line x1="807.11" x2="807.11" y1="2012" y2="2225.5" stroke="#ebebeb" stroke-width="1.6"/>
<line x1="923.12" x2="923.12" y1="2012" y2="2225.5" stroke="#ebebeb" stroke-width="1.6"/>
<line x1="1039.12" x2="1039.12" y1="2012" y2="2225.5" stroke="#ebebeb" stroke-width="1.6"/>
<line x1="1155.12" x2="1155.12" y1="2012" y2="2225.5" stroke="#ebebeb" stroke-width="1.6"/>
<line x1="726.1" x2="1235.3" y1="2188.75" y2="2188.75" stroke="#ebebeb" stroke-width="1.6"/>
<line x1="726.1" x2="1235.3" y1="2134.25" y2="2134.25" stroke="#ebebeb" stroke-width="1.6"/>
<line x1="726.1" x2="1235.3" y1="2079.75" y2="2079.75" stroke="#ebebeb" stroke-width="1.6"/>
<line x1="726.1" x2="1235.3" y1="2025.25" y2="2025.25" stroke="#ebebeb" stroke-width="1.6"/>
<line x1="748.16" x2="748.16" y1="2012" y2="2225.5" stroke="#ebebeb" stroke-width="3.2"/>
<line x1="866.07" x2="866.07" y1="2012" y2="2225.5" stroke="#ebebeb" stroke-width="3.2"/>
<line x1="980.17" x2="980.17" y1="2012" y2="2225.5" stroke="#ebebeb" stroke-width="3.2"/>
<line x1="1098.07" x2="1098.07" y1="2012" y2="2225.5" stroke="#ebebeb" stroke-width="3.2"/>
<line x1="1212.18" x2="1212.18" y1="2012" y2="2225.5" stroke="#ebebeb" stroke-width="3.2"/>
<line x1="726.1" x2="1235.3" y1="2216" y2="2216" stroke="#ebebeb" stroke-width="3.2"/>
<line x1="726.1" x2="1235.3" y1="2161.5" y2="2161.5" stroke="#ebebeb" stroke-width="3.2"/>
<line x1="726.1" x2="1235.3" y1="2107" y2="2107" stroke="#ebebeb" stroke-width="3.2"/>
<line x1="726.1" x2="1235.3" y1="2052.5" y2="2052.5" stroke="#ebebeb" stroke-width="3.2"/>
<polyline points="748.7,2215.2 756.3,2214.7 762.3,2214.2 768.3,2213.6 774.3,2212.6 778.8,2211.7 783.3,2210.5 787.8,2209 790.8,2207.8 794.3,2208.9 797.6,2207.5 800.9,2205.8 804.1,2203.8 806.6,2202 809.9,2199.2 812.3,2196.8 814.8,2194 817.2,2190.8 821,2201 833.3,2193.9 843.9,2187.4 847.7,2199.4 858.4,2197.4 869.4,2197.9 873.8,2201.5 896.1,2204.2 927.5,2207.3 958.9,2209.7 988.8,2211.5 1114.7,2214.7 1212.4,2215.6" fill="none" stroke="#840000" stroke-width="6.4" stroke-linejoin="round"/>
<polygon points="748.7,2214.1 750.2,2214.6 759.2,2213.9 766.7,2213.1 774.2,2211.8 775.7,2211.4 780.2,2209.4 787.7,2205.1 789.7,2204.3 791.2,2204.2 794.2,2204.9 797.7,2203.3 798.7,2202.7 799.7,2201.8 803.2,2197.9 805.7,2194.5 808.2,2190.5 810.7,2185.8 813.2,2180.1 817.2,2168.8 820.7,2189.3 821.2,2190.5 843.7,2164.3 844.2,2165.9 847.7,2186.9 856.7,2183.3 869.7,2182.7 870.2,2182.8 874.2,2191.1 895.7,2193.9 902.7,2196.3 922.7,2198.3 927.7,2201 949.2,2201.8 954.2,2203.7 974.7,2204.2 989.2,2206.5 1036.2,2207.8 1083.2,2209.3 1130.7,2210 1161.7,2208.9 1185.2,2206.5 1201.2,2201.7 1212.4,2196.3 1212.4,2218.3 988.7,2214.6 962.2,2213.4 927.2,2211.2 874.2,2206.9 873.7,2206.8 869.2,2204.6 847.7,2206.2 844.2,2201.4 843.7,2201 833.2,2202.6 821.2,2206.1 820.7,2205.6 820.2,2204.5 819.2,2203.9 818.2,2202.9 817.7,2202.1 816.2,2198.4 815.2,2198.9 810.7,2203.2 806.2,2206.7 800.7,2210 795.2,2212.4 793.7,2212.5 791.2,2211.8 790.7,2211.8 787.7,2212.9 784.7,2213.4 780.7,2213.6 775.2,2213.6 764.2,2214.6 750.7,2215.3 750.2,2215.4 748.7,2216.3" fill="#c89b9b" fill-opacity="0.5"/>
</g>
<rect x="726.1" y="2012" width="509.2" height="213.5" fill="none" stroke="#333" stroke-width="2.13"/>
<rect x="726.1" y="1957.6" width="509.2" height="53.45" fill="#d9d9d9" stroke="#333" stroke-width="2.13"/>
<text x="980.7" y="1994.32" text-anchor="middle" font-size="27.5" fill="#1a1a1a" color="#1a1a1a">Rel: Dmk −> UK</text>
<line x1="748.16" x2="748.16" y1="2225.5" y2="2234.9" stroke="#333" stroke-width="3.2"/>
<line x1="866.07" x2="866.07" y1="2225.5" y2="2234.9" stroke="#333" stroke-width="3.2"/>
<line x1="980.17" x2="980.17" y1="2225.5" y2="2234.9" stroke="#333" stroke-width="3.2"/>
<line x1="1098.07" x2="1098.07" y1="2225.5" y2="2234.9" stroke="#333" stroke-width="3.2"/>
<line x1="1212.18" x2="1212.18" y1="2225.5" y2="2234.9" stroke="#333" stroke-width="3.2"/>
<text transform="translate(1274.66 1957.3) rotate(-60)" text-anchor="end" font-size="36.5" fill="#000" color="#000" dy="26.13">Mar '20</text>
<text transform="translate(1392.57 1957.3) rotate(-60)" text-anchor="end" font-size="36.5" fill="#000" color="#000" dy="26.13">Apr '20</text>
<text transform="translate(1506.67 1957.3) rotate(-60)" text-anchor="end" font-size="36.5" fill="#000" color="#000" dy="26.13">May '20</text>
<text transform="translate(1624.57 1957.3) rotate(-60)" text-anchor="end" font-size="36.5" fill="#000" color="#000" dy="26.13">Jun '20</text>
<text transform="translate(1738.68 1957.3) rotate(-60)" text-anchor="end" font-size="36.5" fill="#000" color="#000" dy="26.13">Jul '20</text>
<text transform="translate(221.66 2243) rotate(-60)" text-anchor="end" font-size="36.5" fill="#000" color="#000" dy="26.13">Mar '20</text>
<text transform="translate(339.57 2243) rotate(-60)" text-anchor="end" font-size="36.5" fill="#000" color="#000" dy="26.13">Apr '20</text>
<text transform="translate(453.67 2243) rotate(-60)" text-anchor="end" font-size="36.5" fill="#000" color="#000" dy="26.13">May '20</text>
<text transform="translate(571.57 2243) rotate(-60)" text-anchor="end" font-size="36.5" fill="#000" color="#000" dy="26.13">Jun '20</text>
<text transform="translate(685.68 2243) rotate(-60)" text-anchor="end" font-size="36.5" fill="#000" color="#000" dy="26.13">Jul '20</text>
<text transform="translate(748.16 2243) rotate(-60)" text-anchor="end" font-size="36.5" fill="#000" color="#000" dy="26.13">Mar '20</text>
<text transform="translate(866.07 2243) rotate(-60)" text-anchor="end" font-size="36.5" fill="#000" color="#000" dy="26.13">Apr '20</text>
<text transform="translate(980.17 2243) rotate(-60)" text-anchor="end" font-size="36.5" fill="#000" color="#000" dy="26.13">May '20</text>
<text transform="translate(1098.07 2243) rotate(-60)" text-anchor="end" font-size="36.5" fill="#000" color="#000" dy="26.13">Jun '20</text>
<text transform="translate(1212.18 2243) rotate(-60)" text-anchor="end" font-size="36.5" fill="#000" color="#000" dy="26.13">Jul '20</text>
</g>
</svg>
</body></html>
